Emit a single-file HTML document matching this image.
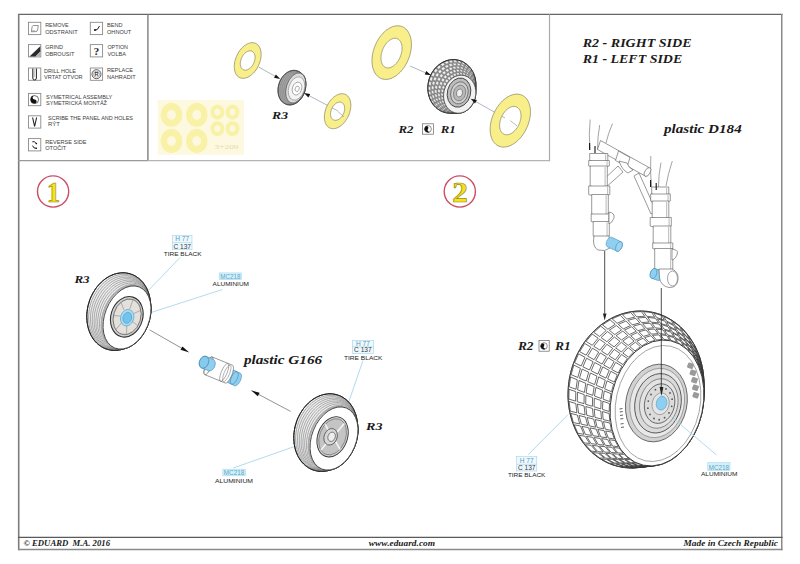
<!DOCTYPE html>
<html><head><meta charset="utf-8"><style>
html,body{margin:0;padding:0;background:#fff;width:800px;height:564px;overflow:hidden}
svg{display:block}
.sb{font-family:"Liberation Serif",serif;font-weight:bold;font-style:italic;fill:#1a1a1a}
.ss{font-family:"Liberation Sans",sans-serif;fill:#333}
</style></head><body>
<svg width="800" height="564" viewBox="0 0 800 564">
<g fill="none">
<line x1="18" y1="14.4" x2="782.5" y2="14.4" stroke="#666" stroke-width="1.2"/>
<line x1="18.7" y1="14" x2="18.7" y2="550.2" stroke="#7c7c7c" stroke-width="1.6"/>
<line x1="781.75" y1="14" x2="781.75" y2="550.2" stroke="#8a8a8a" stroke-width="1.5"/>
<line x1="18" y1="549.5" x2="782.5" y2="549.5" stroke="#8a8a8a" stroke-width="1.4"/>
<line x1="18" y1="537.45" x2="782.5" y2="537.45" stroke="#5a5a5a" stroke-width="1.2"/>
<line x1="147.9" y1="14.4" x2="147.9" y2="161" stroke="#888" stroke-width="1.5"/>
<line x1="18" y1="160.6" x2="148" y2="160.6" stroke="#999" stroke-width="1.4"/>
<line x1="148" y1="160.6" x2="550" y2="160.6" stroke="#b4b4b4" stroke-width="1.3"/>
<line x1="549.5" y1="14.4" x2="549.5" y2="161" stroke="#aaa" stroke-width="1.2"/>
</g>
<!-- legend -->
<g fill="none" stroke="#8a8a8a" stroke-width="0.9">
<rect x="28.5" y="22.3" width="12.3" height="12.3"/>
<rect x="90.3" y="22.3" width="12.3" height="12.3"/>
<rect x="28.5" y="44.6" width="12.3" height="12.3"/>
<rect x="90.3" y="44.6" width="12.3" height="12.3"/>
<rect x="28.5" y="68" width="12.3" height="12.3"/>
<rect x="90.3" y="68" width="12.3" height="12.3"/>
<rect x="28.5" y="93.4" width="12.3" height="12.3"/>
<rect x="28.5" y="115.8" width="12.3" height="12.3"/>
<rect x="28.5" y="138.6" width="12.3" height="12.3"/>
</g>
<g>
<!-- remove -->
<path d="M31.3,31.8 L32.2,26.5 Q32.5,25.5 33.6,25.5 L38.3,25.5 L37.6,30 Q37.3,31.6 35.8,31.6 Z" fill="none" stroke="#777" stroke-width="0.8"/>
<path d="M31.3,31.8 L36,31.6 L35.2,30.4 L32,30.6Z" fill="#999"/>
<!-- grind -->
<path d="M29.5,56.4 L40.3,46.2 L40.3,51.5 L35.5,56.4 Z" fill="#2a2a2a"/>
<path d="M35.5,56.4 L40.3,51.5 L40.3,56.4 Z" fill="#b0b0b0"/>
<!-- bend -->
<path d="M94.5,30.2 Q97.5,31 99.5,26" fill="none" stroke="#222" stroke-width="1"/>
<circle cx="95" cy="30" r="1.1" fill="#222"/>
<!-- option -->
<text x="96.4" y="55.2" font-family="Liberation Serif,serif" font-weight="bold" font-size="11" text-anchor="middle" fill="#222">?</text>
<!-- drill -->
<path d="M32.8,68.5 L32.8,78 Q32.8,80 34.6,80 Q36.4,80 36.4,78 L36.4,68.5" fill="none" stroke="#222" stroke-width="1"/>
<path d="M34.2,69 L34.2,77" stroke="#888" stroke-width="0.6"/>
<!-- replace -->
<circle cx="96.5" cy="74.2" r="4.5" fill="none" stroke="#333" stroke-width="0.8"/>
<circle cx="96.5" cy="74.2" r="3" fill="none" stroke="#666" stroke-width="0.5"/>
<text x="96.5" y="76.3" font-family="Liberation Sans,sans-serif" font-weight="bold" font-size="5.5" text-anchor="middle" fill="#333">R</text>
<!-- sym -->
<circle cx="34.6" cy="99.6" r="4" fill="#fff" stroke="#333" stroke-width="0.7"/>
<path d="M34.6,95.6 A4,4 0 0 0 34.6,103.6 A2,2 0 0 0 34.6,99.6 A2,2 0 0 1 34.6,95.6Z" fill="#111"/>
<!-- scribe -->
<path d="M32.6,117.5 L34.6,126.5 L36.6,117.5" fill="none" stroke="#222" stroke-width="1.1"/>
<!-- reverse -->
<path d="M32.3,141.8 Q34.6,140.6 36.3,143.6 M32.5,145.6 Q33.6,148.8 36.3,148.3" fill="none" stroke="#222" stroke-width="1"/>
<circle cx="36.3" cy="143.6" r="0.8" fill="#111"/><circle cx="36.3" cy="148.3" r="0.8" fill="#111"/>
</g>
<g class="ss" font-size="5.7" style="fill:#3c3c3c">
<text x="45.2" y="27.3" textLength="23.5" lengthAdjust="spacingAndGlyphs">REMOVE</text>
<text x="45.2" y="33.8" textLength="32.5" lengthAdjust="spacingAndGlyphs">ODSTRANIT</text>
<text x="107" y="27.3" textLength="15.4" lengthAdjust="spacingAndGlyphs">BEND</text>
<text x="107" y="33.8" textLength="24.3" lengthAdjust="spacingAndGlyphs">OHNOUT</text>
<text x="45.2" y="49.3" textLength="17.8" lengthAdjust="spacingAndGlyphs">GRIND</text>
<text x="45.2" y="55.6" textLength="29.2" lengthAdjust="spacingAndGlyphs">OBROUSIT</text>
<text x="107.4" y="49.3" textLength="20.6" lengthAdjust="spacingAndGlyphs">OPTION</text>
<text x="107.4" y="55.6" textLength="18.6" lengthAdjust="spacingAndGlyphs">VOLBA</text>
<text x="44" y="72.6" textLength="32" lengthAdjust="spacingAndGlyphs">DRILL HOLE</text>
<text x="44" y="78.6" textLength="38.6" lengthAdjust="spacingAndGlyphs">VRTAT OTVOR</text>
<text x="107" y="72.4" textLength="26" lengthAdjust="spacingAndGlyphs">REPLACE</text>
<text x="107" y="78.6" textLength="28.7" lengthAdjust="spacingAndGlyphs">NAHRADIT</text>
<text x="46" y="98.8" textLength="66.3" lengthAdjust="spacingAndGlyphs">SYMETRICAL ASSEMBLY</text>
<text x="46" y="104.5" textLength="61" lengthAdjust="spacingAndGlyphs">SYMETRICKÁ MONTÁŽ</text>
<text x="48" y="119.9" textLength="85" lengthAdjust="spacingAndGlyphs">SCRIBE THE PANEL AND HOLES</text>
<text x="48" y="126.4" textLength="11.8" lengthAdjust="spacingAndGlyphs">RÝT</text>
<text x="45.2" y="143.8" textLength="41.4" lengthAdjust="spacingAndGlyphs">REVERSE SIDE</text>
<text x="45.2" y="150.1" textLength="21.1" lengthAdjust="spacingAndGlyphs">OTOČIT</text>
</g>

<rect x="157.7" y="100" width="86.3" height="54.8" fill="#fcf9e0"/>
<path d="M182.2,114.9 L182.2,115.7 L182.1,116.6 L182,117.4 L181.8,118.2 L181.6,119 L181.3,119.8 L180.9,120.5 L180.6,121.3 L180.2,122 L179.7,122.6 L179.2,123.2 L178.7,123.8 L178.1,124.4 L177.5,124.8 L176.8,125.3 L176.2,125.7 L175.5,126 L174.8,126.3 L174.1,126.5 L173.4,126.7 L172.6,126.8 L171.9,126.9 L171.1,126.9 L170.4,126.8 L169.6,126.7 L168.9,126.5 L168.2,126.3 L167.5,126 L166.8,125.7 L166.2,125.3 L165.5,124.8 L164.9,124.4 L164.3,123.8 L163.8,123.2 L163.3,122.6 L162.8,122 L162.4,121.3 L162.1,120.5 L161.7,119.8 L161.4,119 L161.2,118.2 L161,117.4 L160.9,116.6 L160.8,115.7 L160.8,114.9 L160.8,114.1 L160.9,113.2 L161,112.4 L161.2,111.6 L161.4,110.8 L161.7,110 L162.1,109.3 L162.4,108.5 L162.8,107.8 L163.3,107.2 L163.8,106.6 L164.3,106 L164.9,105.4 L165.5,105 L166.2,104.5 L166.8,104.1 L167.5,103.8 L168.2,103.5 L168.9,103.3 L169.6,103.1 L170.4,103 L171.1,102.9 L171.9,102.9 L172.6,103 L173.4,103.1 L174.1,103.3 L174.8,103.5 L175.5,103.8 L176.2,104.1 L176.8,104.5 L177.5,105 L178.1,105.4 L178.7,106 L179.2,106.6 L179.7,107.2 L180.2,107.8 L180.6,108.5 L180.9,109.3 L181.3,110 L181.6,110.8 L181.8,111.6 L182,112.4 L182.1,113.2 L182.2,114.1Z M175.9,114.9 L175.9,115.2 L175.9,115.6 L175.8,115.9 L175.7,116.2 L175.6,116.6 L175.5,116.9 L175.4,117.2 L175.2,117.5 L175.1,117.7 L174.9,118 L174.7,118.3 L174.4,118.5 L174.2,118.7 L174,118.9 L173.7,119.1 L173.4,119.3 L173.1,119.4 L172.9,119.5 L172.6,119.6 L172.3,119.7 L172,119.7 L171.7,119.7 L171.3,119.7 L171,119.7 L170.7,119.7 L170.4,119.6 L170.1,119.5 L169.9,119.4 L169.6,119.3 L169.3,119.1 L169,118.9 L168.8,118.7 L168.6,118.5 L168.3,118.3 L168.1,118 L167.9,117.7 L167.8,117.5 L167.6,117.2 L167.5,116.9 L167.4,116.6 L167.3,116.2 L167.2,115.9 L167.1,115.6 L167.1,115.2 L167.1,114.9 L167.1,114.6 L167.1,114.2 L167.2,113.9 L167.3,113.6 L167.4,113.2 L167.5,112.9 L167.6,112.6 L167.8,112.3 L167.9,112.1 L168.1,111.8 L168.3,111.5 L168.6,111.3 L168.8,111.1 L169,110.9 L169.3,110.7 L169.6,110.5 L169.9,110.4 L170.1,110.3 L170.4,110.2 L170.7,110.1 L171,110.1 L171.3,110.1 L171.7,110.1 L172,110.1 L172.3,110.1 L172.6,110.2 L172.9,110.3 L173.1,110.4 L173.4,110.5 L173.7,110.7 L174,110.9 L174.2,111.1 L174.4,111.3 L174.7,111.5 L174.9,111.8 L175.1,112.1 L175.2,112.3 L175.4,112.6 L175.5,112.9 L175.6,113.2 L175.7,113.6 L175.8,113.9 L175.9,114.2 L175.9,114.6Z" fill="#f9f1a6" fill-rule="evenodd" stroke="none" stroke-width="0"/>
<path d="M207.4,114.9 L207.4,115.7 L207.3,116.6 L207.2,117.4 L207,118.2 L206.8,119 L206.5,119.8 L206.2,120.5 L205.8,121.3 L205.4,122 L204.9,122.6 L204.4,123.2 L203.9,123.8 L203.3,124.4 L202.7,124.8 L202.1,125.3 L201.4,125.7 L200.8,126 L200.1,126.3 L199.3,126.5 L198.6,126.7 L197.9,126.8 L197.1,126.9 L196.4,126.9 L195.6,126.8 L194.9,126.7 L194.2,126.5 L193.4,126.3 L192.7,126 L192.1,125.7 L191.4,125.3 L190.8,124.8 L190.2,124.4 L189.6,123.8 L189.1,123.2 L188.6,122.6 L188.1,122 L187.7,121.3 L187.3,120.5 L187,119.8 L186.7,119 L186.5,118.2 L186.3,117.4 L186.2,116.6 L186.1,115.7 L186.1,114.9 L186.1,114.1 L186.2,113.2 L186.3,112.4 L186.5,111.6 L186.7,110.8 L187,110 L187.3,109.3 L187.7,108.5 L188.1,107.8 L188.6,107.2 L189.1,106.6 L189.6,106 L190.2,105.4 L190.8,105 L191.4,104.5 L192.1,104.1 L192.7,103.8 L193.4,103.5 L194.2,103.3 L194.9,103.1 L195.6,103 L196.4,102.9 L197.1,102.9 L197.9,103 L198.6,103.1 L199.3,103.3 L200.1,103.5 L200.8,103.8 L201.4,104.1 L202.1,104.5 L202.7,105 L203.3,105.4 L203.9,106 L204.4,106.6 L204.9,107.2 L205.4,107.8 L205.8,108.5 L206.2,109.3 L206.5,110 L206.8,110.8 L207,111.6 L207.2,112.4 L207.3,113.2 L207.4,114.1Z M201.2,114.9 L201.1,115.2 L201.1,115.6 L201.1,115.9 L201,116.2 L200.9,116.6 L200.8,116.9 L200.6,117.2 L200.5,117.5 L200.3,117.7 L200.1,118 L199.9,118.3 L199.7,118.5 L199.5,118.7 L199.2,118.9 L198.9,119.1 L198.7,119.3 L198.4,119.4 L198.1,119.5 L197.8,119.6 L197.5,119.7 L197.2,119.7 L196.9,119.7 L196.6,119.7 L196.3,119.7 L196,119.7 L195.7,119.6 L195.4,119.5 L195.1,119.4 L194.8,119.3 L194.6,119.1 L194.3,118.9 L194,118.7 L193.8,118.5 L193.6,118.3 L193.4,118 L193.2,117.7 L193,117.5 L192.9,117.2 L192.7,116.9 L192.6,116.6 L192.5,116.2 L192.4,115.9 L192.4,115.6 L192.4,115.2 L192.3,114.9 L192.4,114.6 L192.4,114.2 L192.4,113.9 L192.5,113.6 L192.6,113.2 L192.7,112.9 L192.9,112.6 L193,112.3 L193.2,112.1 L193.4,111.8 L193.6,111.5 L193.8,111.3 L194,111.1 L194.3,110.9 L194.6,110.7 L194.8,110.5 L195.1,110.4 L195.4,110.3 L195.7,110.2 L196,110.1 L196.3,110.1 L196.6,110.1 L196.9,110.1 L197.2,110.1 L197.5,110.1 L197.8,110.2 L198.1,110.3 L198.4,110.4 L198.7,110.5 L198.9,110.7 L199.2,110.9 L199.5,111.1 L199.7,111.3 L199.9,111.5 L200.1,111.8 L200.3,112.1 L200.5,112.3 L200.6,112.6 L200.8,112.9 L200.9,113.2 L201,113.6 L201.1,113.9 L201.1,114.2 L201.1,114.6Z" fill="#f9f1a6" fill-rule="evenodd" stroke="none" stroke-width="0"/>
<path d="M182.2,141 L182.2,141.8 L182.1,142.7 L182,143.5 L181.8,144.3 L181.6,145.1 L181.3,145.9 L180.9,146.6 L180.6,147.4 L180.2,148.1 L179.7,148.7 L179.2,149.3 L178.7,149.9 L178.1,150.5 L177.5,150.9 L176.8,151.4 L176.2,151.8 L175.5,152.1 L174.8,152.4 L174.1,152.6 L173.4,152.8 L172.6,152.9 L171.9,153 L171.1,153 L170.4,152.9 L169.6,152.8 L168.9,152.6 L168.2,152.4 L167.5,152.1 L166.8,151.8 L166.2,151.4 L165.5,150.9 L164.9,150.5 L164.3,149.9 L163.8,149.3 L163.3,148.7 L162.8,148.1 L162.4,147.4 L162.1,146.6 L161.7,145.9 L161.4,145.1 L161.2,144.3 L161,143.5 L160.9,142.7 L160.8,141.8 L160.8,141 L160.8,140.2 L160.9,139.3 L161,138.5 L161.2,137.7 L161.4,136.9 L161.7,136.1 L162.1,135.4 L162.4,134.6 L162.8,133.9 L163.3,133.3 L163.8,132.7 L164.3,132.1 L164.9,131.5 L165.5,131.1 L166.2,130.6 L166.8,130.2 L167.5,129.9 L168.2,129.6 L168.9,129.4 L169.6,129.2 L170.4,129.1 L171.1,129 L171.9,129 L172.6,129.1 L173.4,129.2 L174.1,129.4 L174.8,129.6 L175.5,129.9 L176.2,130.2 L176.8,130.6 L177.5,131.1 L178.1,131.5 L178.7,132.1 L179.2,132.7 L179.7,133.3 L180.2,133.9 L180.6,134.6 L180.9,135.4 L181.3,136.1 L181.6,136.9 L181.8,137.7 L182,138.5 L182.1,139.3 L182.2,140.2Z M175.9,141 L175.9,141.3 L175.9,141.7 L175.8,142 L175.7,142.3 L175.6,142.7 L175.5,143 L175.4,143.3 L175.2,143.6 L175.1,143.8 L174.9,144.1 L174.7,144.4 L174.4,144.6 L174.2,144.8 L174,145 L173.7,145.2 L173.4,145.4 L173.1,145.5 L172.9,145.6 L172.6,145.7 L172.3,145.8 L172,145.8 L171.7,145.8 L171.3,145.8 L171,145.8 L170.7,145.8 L170.4,145.7 L170.1,145.6 L169.9,145.5 L169.6,145.4 L169.3,145.2 L169,145 L168.8,144.8 L168.6,144.6 L168.3,144.4 L168.1,144.1 L167.9,143.8 L167.8,143.6 L167.6,143.3 L167.5,143 L167.4,142.7 L167.3,142.3 L167.2,142 L167.1,141.7 L167.1,141.3 L167.1,141 L167.1,140.7 L167.1,140.3 L167.2,140 L167.3,139.7 L167.4,139.3 L167.5,139 L167.6,138.7 L167.8,138.4 L167.9,138.2 L168.1,137.9 L168.3,137.6 L168.6,137.4 L168.8,137.2 L169,137 L169.3,136.8 L169.6,136.6 L169.9,136.5 L170.1,136.4 L170.4,136.3 L170.7,136.2 L171,136.2 L171.3,136.2 L171.7,136.2 L172,136.2 L172.3,136.2 L172.6,136.3 L172.9,136.4 L173.1,136.5 L173.4,136.6 L173.7,136.8 L174,137 L174.2,137.2 L174.4,137.4 L174.7,137.6 L174.9,137.9 L175.1,138.2 L175.2,138.4 L175.4,138.7 L175.5,139 L175.6,139.3 L175.7,139.7 L175.8,140 L175.9,140.3 L175.9,140.7Z" fill="#f9f1a6" fill-rule="evenodd" stroke="none" stroke-width="0"/>
<path d="M207.4,141 L207.4,141.8 L207.3,142.7 L207.2,143.5 L207,144.3 L206.8,145.1 L206.5,145.9 L206.2,146.6 L205.8,147.4 L205.4,148.1 L204.9,148.7 L204.4,149.3 L203.9,149.9 L203.3,150.5 L202.7,150.9 L202.1,151.4 L201.4,151.8 L200.8,152.1 L200.1,152.4 L199.3,152.6 L198.6,152.8 L197.9,152.9 L197.1,153 L196.4,153 L195.6,152.9 L194.9,152.8 L194.2,152.6 L193.4,152.4 L192.7,152.1 L192.1,151.8 L191.4,151.4 L190.8,150.9 L190.2,150.5 L189.6,149.9 L189.1,149.3 L188.6,148.7 L188.1,148.1 L187.7,147.4 L187.3,146.6 L187,145.9 L186.7,145.1 L186.5,144.3 L186.3,143.5 L186.2,142.7 L186.1,141.8 L186.1,141 L186.1,140.2 L186.2,139.3 L186.3,138.5 L186.5,137.7 L186.7,136.9 L187,136.1 L187.3,135.4 L187.7,134.6 L188.1,133.9 L188.6,133.3 L189.1,132.7 L189.6,132.1 L190.2,131.5 L190.8,131.1 L191.4,130.6 L192.1,130.2 L192.7,129.9 L193.4,129.6 L194.2,129.4 L194.9,129.2 L195.6,129.1 L196.4,129 L197.1,129 L197.9,129.1 L198.6,129.2 L199.3,129.4 L200.1,129.6 L200.8,129.9 L201.4,130.2 L202.1,130.6 L202.7,131.1 L203.3,131.5 L203.9,132.1 L204.4,132.7 L204.9,133.3 L205.4,133.9 L205.8,134.6 L206.2,135.4 L206.5,136.1 L206.8,136.9 L207,137.7 L207.2,138.5 L207.3,139.3 L207.4,140.2Z M201.2,141 L201.1,141.3 L201.1,141.7 L201.1,142 L201,142.3 L200.9,142.7 L200.8,143 L200.6,143.3 L200.5,143.6 L200.3,143.8 L200.1,144.1 L199.9,144.4 L199.7,144.6 L199.5,144.8 L199.2,145 L198.9,145.2 L198.7,145.4 L198.4,145.5 L198.1,145.6 L197.8,145.7 L197.5,145.8 L197.2,145.8 L196.9,145.8 L196.6,145.8 L196.3,145.8 L196,145.8 L195.7,145.7 L195.4,145.6 L195.1,145.5 L194.8,145.4 L194.6,145.2 L194.3,145 L194,144.8 L193.8,144.6 L193.6,144.4 L193.4,144.1 L193.2,143.8 L193,143.6 L192.9,143.3 L192.7,143 L192.6,142.7 L192.5,142.3 L192.4,142 L192.4,141.7 L192.4,141.3 L192.3,141 L192.4,140.7 L192.4,140.3 L192.4,140 L192.5,139.7 L192.6,139.3 L192.7,139 L192.9,138.7 L193,138.4 L193.2,138.2 L193.4,137.9 L193.6,137.6 L193.8,137.4 L194,137.2 L194.3,137 L194.6,136.8 L194.8,136.6 L195.1,136.5 L195.4,136.4 L195.7,136.3 L196,136.2 L196.3,136.2 L196.6,136.2 L196.9,136.2 L197.2,136.2 L197.5,136.2 L197.8,136.3 L198.1,136.4 L198.4,136.5 L198.7,136.6 L198.9,136.8 L199.2,137 L199.5,137.2 L199.7,137.4 L199.9,137.6 L200.1,137.9 L200.3,138.2 L200.5,138.4 L200.6,138.7 L200.8,139 L200.9,139.3 L201,139.7 L201.1,140 L201.1,140.3 L201.1,140.7Z" fill="#f9f1a6" fill-rule="evenodd" stroke="none" stroke-width="0"/>
<path d="M224.3,112.1 L224.3,112.6 L224.2,113.1 L224.1,113.6 L224,114.1 L223.9,114.6 L223.7,115.1 L223.5,115.6 L223.3,116 L223,116.4 L222.7,116.9 L222.4,117.2 L222,117.6 L221.6,117.9 L221.3,118.2 L220.8,118.5 L220.4,118.8 L220,119 L219.5,119.1 L219.1,119.3 L218.6,119.4 L218.1,119.5 L217.6,119.5 L217.2,119.5 L216.7,119.5 L216.2,119.4 L215.7,119.3 L215.3,119.1 L214.8,119 L214.4,118.8 L214,118.5 L213.5,118.2 L213.2,117.9 L212.8,117.6 L212.4,117.2 L212.1,116.9 L211.8,116.4 L211.5,116 L211.3,115.6 L211.1,115.1 L210.9,114.6 L210.8,114.1 L210.7,113.6 L210.6,113.1 L210.5,112.6 L210.5,112.1 L210.5,111.6 L210.6,111.1 L210.7,110.6 L210.8,110.1 L210.9,109.6 L211.1,109.1 L211.3,108.6 L211.5,108.2 L211.8,107.8 L212.1,107.3 L212.4,107 L212.8,106.6 L213.2,106.3 L213.5,106 L213.9,105.7 L214.4,105.4 L214.8,105.2 L215.3,105.1 L215.7,104.9 L216.2,104.8 L216.7,104.7 L217.2,104.7 L217.6,104.7 L218.1,104.7 L218.6,104.8 L219.1,104.9 L219.5,105.1 L220,105.2 L220.4,105.4 L220.8,105.7 L221.3,106 L221.6,106.3 L222,106.6 L222.4,107 L222.7,107.3 L223,107.8 L223.3,108.2 L223.5,108.6 L223.7,109.1 L223.9,109.6 L224,110.1 L224.1,110.6 L224.2,111.1 L224.3,111.6Z M220.4,112.1 L220.4,112.3 L220.4,112.6 L220.3,112.8 L220.3,113 L220.2,113.2 L220.1,113.4 L220,113.6 L219.9,113.8 L219.8,114 L219.7,114.2 L219.6,114.4 L219.4,114.6 L219.2,114.7 L219.1,114.8 L218.9,115 L218.7,115.1 L218.5,115.2 L218.3,115.2 L218.1,115.3 L217.9,115.3 L217.7,115.4 L217.5,115.4 L217.3,115.4 L217.1,115.4 L216.9,115.3 L216.7,115.3 L216.5,115.2 L216.3,115.2 L216.1,115.1 L215.9,115 L215.7,114.8 L215.6,114.7 L215.4,114.6 L215.2,114.4 L215.1,114.2 L215,114 L214.9,113.8 L214.8,113.6 L214.7,113.4 L214.6,113.2 L214.5,113 L214.5,112.8 L214.4,112.6 L214.4,112.3 L214.4,112.1 L214.4,111.9 L214.4,111.6 L214.5,111.4 L214.5,111.2 L214.6,111 L214.7,110.8 L214.8,110.6 L214.9,110.4 L215,110.2 L215.1,110 L215.2,109.8 L215.4,109.6 L215.6,109.5 L215.7,109.4 L215.9,109.2 L216.1,109.1 L216.3,109 L216.5,109 L216.7,108.9 L216.9,108.9 L217.1,108.8 L217.3,108.8 L217.5,108.8 L217.7,108.8 L217.9,108.9 L218.1,108.9 L218.3,109 L218.5,109 L218.7,109.1 L218.9,109.2 L219.1,109.4 L219.2,109.5 L219.4,109.6 L219.6,109.8 L219.7,110 L219.8,110.2 L219.9,110.4 L220,110.6 L220.1,110.8 L220.2,111 L220.3,111.2 L220.3,111.4 L220.4,111.6 L220.4,111.9Z" fill="#f9f1a6" fill-rule="evenodd" stroke="none" stroke-width="0"/>
<path d="M239.4,112.1 L239.4,112.6 L239.3,113.1 L239.2,113.6 L239.1,114.1 L239,114.6 L238.8,115.1 L238.6,115.6 L238.4,116 L238.1,116.4 L237.8,116.9 L237.5,117.2 L237.1,117.6 L236.7,117.9 L236.4,118.2 L235.9,118.5 L235.5,118.8 L235.1,119 L234.6,119.1 L234.2,119.3 L233.7,119.4 L233.2,119.5 L232.7,119.5 L232.3,119.5 L231.8,119.5 L231.3,119.4 L230.8,119.3 L230.4,119.1 L229.9,119 L229.5,118.8 L229.1,118.5 L228.6,118.2 L228.3,117.9 L227.9,117.6 L227.5,117.2 L227.2,116.9 L226.9,116.4 L226.6,116 L226.4,115.6 L226.2,115.1 L226,114.6 L225.9,114.1 L225.8,113.6 L225.7,113.1 L225.6,112.6 L225.6,112.1 L225.6,111.6 L225.7,111.1 L225.8,110.6 L225.9,110.1 L226,109.6 L226.2,109.1 L226.4,108.6 L226.6,108.2 L226.9,107.8 L227.2,107.3 L227.5,107 L227.9,106.6 L228.3,106.3 L228.6,106 L229,105.7 L229.5,105.4 L229.9,105.2 L230.4,105.1 L230.8,104.9 L231.3,104.8 L231.8,104.7 L232.3,104.7 L232.7,104.7 L233.2,104.7 L233.7,104.8 L234.2,104.9 L234.6,105.1 L235.1,105.2 L235.5,105.4 L235.9,105.7 L236.4,106 L236.7,106.3 L237.1,106.6 L237.5,107 L237.8,107.3 L238.1,107.8 L238.4,108.2 L238.6,108.6 L238.8,109.1 L239,109.6 L239.1,110.1 L239.2,110.6 L239.3,111.1 L239.4,111.6Z M235.5,112.1 L235.5,112.3 L235.5,112.6 L235.4,112.8 L235.4,113 L235.3,113.2 L235.2,113.4 L235.1,113.6 L235,113.8 L234.9,114 L234.8,114.2 L234.7,114.4 L234.5,114.6 L234.3,114.7 L234.2,114.8 L234,115 L233.8,115.1 L233.6,115.2 L233.4,115.2 L233.2,115.3 L233,115.3 L232.8,115.4 L232.6,115.4 L232.4,115.4 L232.2,115.4 L232,115.3 L231.8,115.3 L231.6,115.2 L231.4,115.2 L231.2,115.1 L231,115 L230.8,114.8 L230.7,114.7 L230.5,114.6 L230.3,114.4 L230.2,114.2 L230.1,114 L230,113.8 L229.9,113.6 L229.8,113.4 L229.7,113.2 L229.6,113 L229.6,112.8 L229.5,112.6 L229.5,112.3 L229.5,112.1 L229.5,111.9 L229.5,111.6 L229.6,111.4 L229.6,111.2 L229.7,111 L229.8,110.8 L229.9,110.6 L230,110.4 L230.1,110.2 L230.2,110 L230.3,109.8 L230.5,109.6 L230.7,109.5 L230.8,109.4 L231,109.2 L231.2,109.1 L231.4,109 L231.6,109 L231.8,108.9 L232,108.9 L232.2,108.8 L232.4,108.8 L232.6,108.8 L232.8,108.8 L233,108.9 L233.2,108.9 L233.4,109 L233.6,109 L233.8,109.1 L234,109.2 L234.2,109.4 L234.3,109.5 L234.5,109.6 L234.7,109.8 L234.8,110 L234.9,110.2 L235,110.4 L235.1,110.6 L235.2,110.8 L235.3,111 L235.4,111.2 L235.4,111.4 L235.5,111.6 L235.5,111.9Z" fill="#f9f1a6" fill-rule="evenodd" stroke="none" stroke-width="0"/>
<path d="M224.3,128.6 L224.3,129.1 L224.2,129.6 L224.1,130.1 L224,130.6 L223.9,131.1 L223.7,131.6 L223.5,132.1 L223.3,132.5 L223,132.9 L222.7,133.4 L222.4,133.7 L222,134.1 L221.6,134.4 L221.3,134.7 L220.8,135 L220.4,135.3 L220,135.5 L219.5,135.6 L219.1,135.8 L218.6,135.9 L218.1,136 L217.6,136 L217.2,136 L216.7,136 L216.2,135.9 L215.7,135.8 L215.3,135.6 L214.8,135.5 L214.4,135.3 L214,135 L213.5,134.7 L213.2,134.4 L212.8,134.1 L212.4,133.7 L212.1,133.4 L211.8,132.9 L211.5,132.5 L211.3,132.1 L211.1,131.6 L210.9,131.1 L210.8,130.6 L210.7,130.1 L210.6,129.6 L210.5,129.1 L210.5,128.6 L210.5,128.1 L210.6,127.6 L210.7,127.1 L210.8,126.6 L210.9,126.1 L211.1,125.6 L211.3,125.1 L211.5,124.7 L211.8,124.3 L212.1,123.8 L212.4,123.5 L212.8,123.1 L213.2,122.8 L213.5,122.5 L213.9,122.2 L214.4,121.9 L214.8,121.7 L215.3,121.6 L215.7,121.4 L216.2,121.3 L216.7,121.2 L217.2,121.2 L217.6,121.2 L218.1,121.2 L218.6,121.3 L219.1,121.4 L219.5,121.6 L220,121.7 L220.4,121.9 L220.8,122.2 L221.3,122.5 L221.6,122.8 L222,123.1 L222.4,123.5 L222.7,123.8 L223,124.3 L223.3,124.7 L223.5,125.1 L223.7,125.6 L223.9,126.1 L224,126.6 L224.1,127.1 L224.2,127.6 L224.3,128.1Z M220.4,128.6 L220.4,128.8 L220.4,129.1 L220.3,129.3 L220.3,129.5 L220.2,129.7 L220.1,129.9 L220,130.1 L219.9,130.3 L219.8,130.5 L219.7,130.7 L219.6,130.9 L219.4,131.1 L219.2,131.2 L219.1,131.3 L218.9,131.5 L218.7,131.6 L218.5,131.7 L218.3,131.7 L218.1,131.8 L217.9,131.8 L217.7,131.9 L217.5,131.9 L217.3,131.9 L217.1,131.9 L216.9,131.8 L216.7,131.8 L216.5,131.7 L216.3,131.7 L216.1,131.6 L215.9,131.5 L215.7,131.3 L215.6,131.2 L215.4,131.1 L215.2,130.9 L215.1,130.7 L215,130.5 L214.9,130.3 L214.8,130.1 L214.7,129.9 L214.6,129.7 L214.5,129.5 L214.5,129.3 L214.4,129.1 L214.4,128.8 L214.4,128.6 L214.4,128.4 L214.4,128.1 L214.5,127.9 L214.5,127.7 L214.6,127.5 L214.7,127.3 L214.8,127.1 L214.9,126.9 L215,126.7 L215.1,126.5 L215.2,126.3 L215.4,126.1 L215.6,126 L215.7,125.9 L215.9,125.7 L216.1,125.6 L216.3,125.5 L216.5,125.5 L216.7,125.4 L216.9,125.4 L217.1,125.3 L217.3,125.3 L217.5,125.3 L217.7,125.3 L217.9,125.4 L218.1,125.4 L218.3,125.5 L218.5,125.5 L218.7,125.6 L218.9,125.7 L219.1,125.9 L219.2,126 L219.4,126.1 L219.6,126.3 L219.7,126.5 L219.8,126.7 L219.9,126.9 L220,127.1 L220.1,127.3 L220.2,127.5 L220.3,127.7 L220.3,127.9 L220.4,128.1 L220.4,128.4Z" fill="#f9f1a6" fill-rule="evenodd" stroke="none" stroke-width="0"/>
<path d="M239.4,128.6 L239.4,129.1 L239.3,129.6 L239.2,130.1 L239.1,130.6 L239,131.1 L238.8,131.6 L238.6,132.1 L238.4,132.5 L238.1,132.9 L237.8,133.4 L237.5,133.7 L237.1,134.1 L236.7,134.4 L236.4,134.7 L235.9,135 L235.5,135.3 L235.1,135.5 L234.6,135.6 L234.2,135.8 L233.7,135.9 L233.2,136 L232.7,136 L232.3,136 L231.8,136 L231.3,135.9 L230.8,135.8 L230.4,135.6 L229.9,135.5 L229.5,135.3 L229.1,135 L228.6,134.7 L228.3,134.4 L227.9,134.1 L227.5,133.7 L227.2,133.4 L226.9,132.9 L226.6,132.5 L226.4,132.1 L226.2,131.6 L226,131.1 L225.9,130.6 L225.8,130.1 L225.7,129.6 L225.6,129.1 L225.6,128.6 L225.6,128.1 L225.7,127.6 L225.8,127.1 L225.9,126.6 L226,126.1 L226.2,125.6 L226.4,125.1 L226.6,124.7 L226.9,124.3 L227.2,123.8 L227.5,123.5 L227.9,123.1 L228.3,122.8 L228.6,122.5 L229,122.2 L229.5,121.9 L229.9,121.7 L230.4,121.6 L230.8,121.4 L231.3,121.3 L231.8,121.2 L232.3,121.2 L232.7,121.2 L233.2,121.2 L233.7,121.3 L234.2,121.4 L234.6,121.6 L235.1,121.7 L235.5,121.9 L235.9,122.2 L236.4,122.5 L236.7,122.8 L237.1,123.1 L237.5,123.5 L237.8,123.8 L238.1,124.3 L238.4,124.7 L238.6,125.1 L238.8,125.6 L239,126.1 L239.1,126.6 L239.2,127.1 L239.3,127.6 L239.4,128.1Z M235.5,128.6 L235.5,128.8 L235.5,129.1 L235.4,129.3 L235.4,129.5 L235.3,129.7 L235.2,129.9 L235.1,130.1 L235,130.3 L234.9,130.5 L234.8,130.7 L234.7,130.9 L234.5,131.1 L234.3,131.2 L234.2,131.3 L234,131.5 L233.8,131.6 L233.6,131.7 L233.4,131.7 L233.2,131.8 L233,131.8 L232.8,131.9 L232.6,131.9 L232.4,131.9 L232.2,131.9 L232,131.8 L231.8,131.8 L231.6,131.7 L231.4,131.7 L231.2,131.6 L231,131.5 L230.8,131.3 L230.7,131.2 L230.5,131.1 L230.3,130.9 L230.2,130.7 L230.1,130.5 L230,130.3 L229.9,130.1 L229.8,129.9 L229.7,129.7 L229.6,129.5 L229.6,129.3 L229.5,129.1 L229.5,128.8 L229.5,128.6 L229.5,128.4 L229.5,128.1 L229.6,127.9 L229.6,127.7 L229.7,127.5 L229.8,127.3 L229.9,127.1 L230,126.9 L230.1,126.7 L230.2,126.5 L230.3,126.3 L230.5,126.1 L230.7,126 L230.8,125.9 L231,125.7 L231.2,125.6 L231.4,125.5 L231.6,125.5 L231.8,125.4 L232,125.4 L232.2,125.3 L232.4,125.3 L232.6,125.3 L232.8,125.3 L233,125.4 L233.2,125.4 L233.4,125.5 L233.6,125.5 L233.8,125.6 L234,125.7 L234.2,125.9 L234.3,126 L234.5,126.1 L234.7,126.3 L234.8,126.5 L234.9,126.7 L235,126.9 L235.1,127.1 L235.2,127.3 L235.3,127.5 L235.4,127.7 L235.4,127.9 L235.5,128.1 L235.5,128.4Z" fill="#f9f1a6" fill-rule="evenodd" stroke="none" stroke-width="0"/>
<text x="214.5" y="148.5" font-family="Liberation Serif,serif" font-size="6.5" fill="#e4dcaa" textLength="24" lengthAdjust="spacingAndGlyphs">3+209</text>
<line x1="258.6" y1="67" x2="275" y2="76.2" stroke="#8a98a8" stroke-width="0.7"/><path d="M280.2,79.1 L274,77.8 L275.9,74.5 Z" fill="#111"/>
<path d="M258.5,65.5 L257.9,66.7 L257.3,67.9 L256.6,69 L255.9,70.1 L255.1,71.1 L254.3,72.1 L253.5,73 L252.6,73.8 L251.7,74.6 L250.8,75.4 L249.9,76 L249,76.6 L248,77.1 L247.1,77.5 L246.2,77.8 L245.2,78.1 L244.3,78.3 L243.4,78.3 L242.6,78.3 L241.7,78.2 L240.9,78.1 L240.1,77.8 L239.3,77.4 L238.6,77 L238,76.5 L237.3,75.9 L236.8,75.2 L236.3,74.5 L235.8,73.7 L235.4,72.8 L235,71.9 L234.8,70.9 L234.5,69.9 L234.4,68.8 L234.3,67.7 L234.3,66.5 L234.3,65.3 L234.4,64.1 L234.6,62.9 L234.8,61.6 L235.1,60.4 L235.5,59.1 L235.9,57.9 L236.4,56.7 L236.9,55.5 L237.5,54.3 L238.1,53.1 L238.8,52 L239.5,50.9 L240.3,49.9 L241.1,48.9 L241.9,48 L242.8,47.2 L243.7,46.4 L244.6,45.6 L245.5,45 L246.4,44.4 L247.4,43.9 L248.3,43.5 L249.2,43.2 L250.2,42.9 L251.1,42.7 L252,42.7 L252.8,42.7 L253.7,42.8 L254.5,42.9 L255.3,43.2 L256.1,43.6 L256.8,44 L257.4,44.5 L258.1,45.1 L258.6,45.8 L259.1,46.5 L259.6,47.3 L260,48.2 L260.4,49.1 L260.6,50.1 L260.9,51.1 L261,52.2 L261.1,53.3 L261.1,54.5 L261.1,55.7 L261,56.9 L260.8,58.1 L260.6,59.4 L260.3,60.6 L259.9,61.9 L259.5,63.1 L259,64.3Z M253.7,63.3 L253.4,63.9 L253,64.5 L252.7,65.2 L252.3,65.7 L251.8,66.3 L251.4,66.8 L251,67.3 L250.5,67.8 L250,68.2 L249.5,68.6 L249,68.9 L248.5,69.2 L248,69.5 L247.5,69.7 L247,69.9 L246.4,70 L245.9,70.1 L245.4,70.2 L245,70.1 L244.5,70.1 L244,70 L243.6,69.8 L243.2,69.6 L242.8,69.4 L242.4,69.1 L242.1,68.8 L241.8,68.4 L241.5,68 L241.2,67.6 L241,67.1 L240.8,66.6 L240.6,66.1 L240.5,65.5 L240.4,64.9 L240.3,64.3 L240.3,63.7 L240.3,63 L240.4,62.4 L240.5,61.7 L240.6,61 L240.8,60.4 L241,59.7 L241.2,59 L241.4,58.4 L241.7,57.7 L242,57.1 L242.4,56.5 L242.7,55.8 L243.1,55.3 L243.6,54.7 L244,54.2 L244.4,53.7 L244.9,53.2 L245.4,52.8 L245.9,52.4 L246.4,52.1 L246.9,51.8 L247.4,51.5 L247.9,51.3 L248.4,51.1 L249,51 L249.5,50.9 L250,50.8 L250.4,50.9 L250.9,50.9 L251.4,51 L251.8,51.2 L252.2,51.4 L252.6,51.6 L253,51.9 L253.3,52.2 L253.6,52.6 L253.9,53 L254.2,53.4 L254.4,53.9 L254.6,54.4 L254.8,54.9 L254.9,55.5 L255,56.1 L255.1,56.7 L255.1,57.3 L255.1,58 L255,58.6 L254.9,59.3 L254.8,60 L254.6,60.6 L254.4,61.3 L254.2,62 L254,62.6Z" fill="#f8ee8a" fill-rule="evenodd" stroke="#857f5a" stroke-width="0.7"/>
<path d="M278,90.2 L278,89.5 L278.1,88.9 L278.1,88.2 L278.2,87.5 L278.3,86.8 L278.4,86.2 L278.6,85.5 L278.7,84.8 L278.9,84.2 L279.1,83.5 L279.3,82.8 L279.6,82.2 L279.8,81.6 L280.1,80.9 L280.4,80.3 L280.7,79.7 L281.1,79.1 L281.4,78.5 L281.8,78 L282.2,77.4 L282.6,76.9 L283,76.3 L283.4,75.8 L283.8,75.4 L284.3,74.9 L284.7,74.4 L285.2,74 L285.7,73.6 L286.2,73.2 L286.7,72.9 L287.2,72.5 L287.7,72.2 L288.3,71.9 L288.8,71.7 L289.3,71.4 L289.9,71.2 L290.4,71 L290.9,70.8 L291.5,70.7 L292,70.6 L292.6,70.5 L293.1,70.4 L293.7,70.4 L294.2,70.4 L294.7,70.4 L295.3,70.5 L295.8,70.5 L296.3,70.6 L296.8,70.8 L297.3,70.9 L297.8,71.1 L298.3,71.3 L298.8,71.5 L299.3,71.8 L299.7,72 L300.2,72.3 L300.6,72.7 L301,73 L302.5,74.3 L302.8,74.5 L303,74.8 L303.3,75.1 L303.6,75.4 L303.8,75.7 L304,76.1 L304.2,76.5 L304.5,76.9 L304.6,77.3 L304.8,77.7 L305,78.2 L305.1,78.6 L305.3,79.1 L305.4,79.6 L305.5,80.1 L305.6,80.6 L305.7,81.1 L305.7,81.6 L305.8,82.2 L305.8,82.7 L305.8,83.3 L305.8,85.1 L305.8,85.8 L305.7,86.4 L305.7,87.1 L305.6,87.8 L305.5,88.5 L305.4,89.1 L305.2,89.8 L305.1,90.5 L304.9,91.1 L304.7,91.8 L304.5,92.5 L304.2,93.1 L304,93.7 L303.7,94.4 L303.4,95 L303.1,95.6 L302.7,96.2 L302.4,96.8 L302,97.3 L301.6,97.9 L301.2,98.4 L300.8,99 L300.4,99.5 L300,99.9 L299.5,100.4 L299.1,100.9 L298.6,101.3 L298.1,101.7 L297.6,102.1 L297.1,102.4 L296.6,102.8 L296.1,103.1 L295.5,103.4 L295,103.6 L294.5,103.9 L293.9,104.1 L293.4,104.3 L292.9,104.5 L292.3,104.6 L291.8,104.7 L291.2,104.8 L290.7,104.9 L290.1,104.9 L289.6,104.9 L289.1,104.9 L288.5,104.8 L288,104.8 L287.5,104.7 L287,104.5 L286.5,104.4 L286,104.2 L285.5,104 L285,103.8 L284.5,103.5 L284.1,103.3 L283.6,103 L283.2,102.6 L282.8,102.3 L282.4,101.9 L282,101.5 L281.6,101.1 L281.2,100.7 L280.9,100.2 L280.6,99.8 L280.3,99.3 L280,98.8 L279.7,98.2 L279.5,97.7 L279.2,97.1 L279,96.5 L278.8,96 L278.6,95.4 L278.5,94.8 L278.4,94.1 L278.2,93.5 L278.2,92.9 L278.1,92.2 L278,91.5 L278,90.9Z" fill="#a2a2a2" stroke="#333" stroke-width="0.7"/><path d="M304.6,91.2 L304.3,91.9 L304,92.7 L303.7,93.5 L303.3,94.3 L303,95 L302.6,95.7 L302.2,96.4 L301.7,97.1 L301.3,97.8 L300.8,98.4 L300.3,99 L299.8,99.6 L299.3,100.1 L298.7,100.6 L298.2,101.1 L297.6,101.5 L297.1,101.9 L296.5,102.2 L295.9,102.6 L295.4,102.8 L294.8,103.1 L294.2,103.3 L293.6,103.4 L293.1,103.5 L292.5,103.6 L291.9,103.6 L291.4,103.6 L290.8,103.5 L290.3,103.4 L289.8,103.3 L289.3,103.1 L288.8,102.9 L288.3,102.6 L287.8,102.3 L287.4,101.9 L287,101.6 L286.6,101.1 L286.2,100.7 L285.8,100.2 L285.5,99.6 L285.2,99.1 L284.9,98.5 L284.7,97.9 L284.5,97.2 L284.3,96.5 L284.1,95.8 L284,95.1 L283.9,94.4 L283.8,93.6 L283.7,92.8 L283.7,92.1 L283.7,91.3 L283.8,90.5 L283.8,89.6 L283.9,88.8 L284.1,88 L284.2,87.2 L284.4,86.4 L284.7,85.6 L284.9,84.7 L285.2,84 L285.5,83.2 L285.8,82.4 L286.2,81.6 L286.5,80.9 L286.9,80.2 L287.3,79.5 L287.8,78.8 L288.2,78.1 L288.7,77.5 L289.2,76.9 L289.7,76.3 L290.2,75.8 L290.8,75.3 L291.3,74.8 L291.9,74.4 L292.4,74 L293,73.7 L293.6,73.3 L294.1,73.1 L294.7,72.8 L295.3,72.6 L295.9,72.5 L296.4,72.4 L297,72.3 L297.6,72.3 L298.1,72.3 L298.7,72.4 L299.2,72.5 L299.7,72.6 L300.2,72.8 L300.7,73 L301.2,73.3 L301.7,73.6 L302.1,74 L302.5,74.3 L302.9,74.8 L303.3,75.2 L303.7,75.7 L304,76.3 L304.3,76.8 L304.6,77.4 L304.8,78 L305,78.7 L305.2,79.4 L305.4,80.1 L305.5,80.8 L305.6,81.5 L305.7,82.3 L305.8,83.1 L305.8,83.8 L305.8,84.6 L305.7,85.4 L305.7,86.3 L305.6,87.1 L305.4,87.9 L305.3,88.7 L305.1,89.5 L304.8,90.3Z M304.6,91.4 L304.3,92.2 L304,93 L303.7,93.8 L303.3,94.6 L302.9,95.3 L302.5,96.1 L302.1,96.8 L301.6,97.5 L301.1,98.2 L300.6,98.8 L300.1,99.4 L299.5,100 L299,100.5 L298.4,101 L297.8,101.5 L297.2,102 L296.6,102.3 L296,102.7 L295.4,103 L294.8,103.3 L294.1,103.5 L293.5,103.7 L292.9,103.9 L292.3,104 L291.6,104 L291,104 L290.4,104 L289.8,103.9 L289.2,103.8 L288.7,103.7 L288.1,103.5 L287.6,103.2 L287,102.9 L286.5,102.6 L286,102.2 L285.6,101.8 L285.1,101.3 L284.7,100.9 L284.3,100.3 L283.9,99.8 L283.6,99.2 L283.3,98.6 L283,97.9 L282.7,97.2 L282.5,96.5 L282.3,95.8 L282.2,95.1 L282,94.3 L281.9,93.5 L281.9,92.7 L281.8,91.9 L281.8,91.1 L281.8,90.2 L281.9,89.4 L282,88.5 L282.1,87.7 L282.3,86.8 L282.5,86 L282.7,85.2 L283,84.3 L283.3,83.5 L283.6,82.7 L283.9,81.9 L284.3,81.1 L284.7,80.4 L285.1,79.6 L285.5,78.9 L286,78.2 L286.5,77.5 L287,76.9 L287.5,76.3 L288.1,75.7 L288.6,75.2 L289.2,74.7 L289.8,74.2 L290.4,73.7 L291,73.4 L291.6,73 L292.2,72.7 L292.8,72.4 L293.5,72.2 L294.1,72 L294.7,71.8 L295.3,71.7 L296,71.7 L296.6,71.7 L297.2,71.7 L297.8,71.8 L298.4,71.9 L298.9,72 L299.5,72.2 L300,72.5 L300.6,72.8 L301.1,73.1 L301.6,73.5 L302,73.9 L302.5,74.4 L302.9,74.8 L303.3,75.4 L303.7,75.9 L304,76.5 L304.3,77.1 L304.6,77.8 L304.9,78.5 L305.1,79.2 L305.3,79.9 L305.4,80.6 L305.6,81.4 L305.7,82.2 L305.7,83 L305.8,83.8 L305.8,84.6 L305.8,85.5 L305.7,86.3 L305.6,87.2 L305.5,88 L305.3,88.9 L305.1,89.7 L304.9,90.5Z M304.7,91.6 L304.4,92.4 L304,93.3 L303.7,94.1 L303.3,94.9 L302.9,95.7 L302.4,96.4 L302,97.2 L301.5,97.9 L301,98.6 L300.4,99.2 L299.9,99.8 L299.3,100.4 L298.7,101 L298.1,101.5 L297.5,102 L296.8,102.4 L296.2,102.8 L295.5,103.2 L294.8,103.5 L294.2,103.8 L293.5,104 L292.8,104.2 L292.1,104.3 L291.5,104.4 L290.8,104.5 L290.1,104.5 L289.5,104.4 L288.8,104.3 L288.2,104.2 L287.6,104 L287,103.8 L286.4,103.5 L285.8,103.2 L285.2,102.9 L284.7,102.5 L284.2,102 L283.7,101.6 L283.2,101.1 L282.8,100.5 L282.4,99.9 L282,99.3 L281.6,98.7 L281.3,98 L281,97.3 L280.8,96.5 L280.5,95.8 L280.3,95 L280.2,94.2 L280.1,93.4 L280,92.6 L279.9,91.7 L279.9,90.9 L279.9,90 L280,89.1 L280.1,88.3 L280.2,87.4 L280.4,86.5 L280.6,85.6 L280.8,84.8 L281,83.9 L281.3,83.1 L281.7,82.2 L282,81.4 L282.4,80.6 L282.8,79.8 L283.3,79.1 L283.7,78.3 L284.2,77.6 L284.7,76.9 L285.3,76.3 L285.8,75.7 L286.4,75.1 L287,74.5 L287.6,74 L288.2,73.5 L288.9,73.1 L289.5,72.7 L290.2,72.3 L290.9,72 L291.5,71.7 L292.2,71.5 L292.9,71.3 L293.6,71.2 L294.2,71.1 L294.9,71 L295.6,71 L296.2,71.1 L296.9,71.2 L297.5,71.3 L298.1,71.5 L298.7,71.7 L299.3,72 L299.9,72.3 L300.5,72.6 L301,73 L301.5,73.5 L302,73.9 L302.5,74.4 L302.9,75 L303.3,75.6 L303.7,76.2 L304.1,76.8 L304.4,77.5 L304.7,78.2 L304.9,79 L305.2,79.7 L305.4,80.5 L305.5,81.3 L305.6,82.1 L305.7,82.9 L305.8,83.8 L305.8,84.6 L305.8,85.5 L305.7,86.4 L305.6,87.2 L305.5,88.1 L305.3,89 L305.1,89.9 L304.9,90.7Z" fill="none" stroke="#7a7a7a" stroke-width="0.4"/><path d="M278,90.2 L278,89.5 L278.1,88.9 L278.1,88.2 L278.2,87.5 L278.3,86.8 L278.4,86.2 L278.6,85.5 L278.7,84.8 L278.9,84.2 L279.1,83.5 L279.3,82.8 L279.6,82.2 L279.8,81.6 L280.1,80.9 L280.4,80.3 L280.7,79.7 L281.1,79.1 L281.4,78.5 L281.8,78 L282.2,77.4 L282.6,76.9 L283,76.3 L283.4,75.8 L283.8,75.4 L284.3,74.9 L284.7,74.4 L285.2,74 L285.7,73.6 L286.2,73.2 L286.7,72.9 L287.2,72.5 L287.7,72.2 L288.3,71.9 L288.8,71.7 L289.3,71.4 L289.9,71.2 L290.4,71 L290.9,70.8 L291.5,70.7 L292,70.6 L292.6,70.5 L293.1,70.4 L293.7,70.4 L294.2,70.4 L294.7,70.4 L295.3,70.5 L295.8,70.5 L296.3,70.6 L296.8,70.8 L297.3,70.9 L297.8,71.1 L298.3,71.3 L298.8,71.5 L299.3,71.8 L299.7,72 L300.2,72.3 L300.6,72.7 L301,73 L302.5,74.3 L302.8,74.5 L303,74.8 L303.3,75.1 L303.6,75.4 L303.8,75.7 L304,76.1 L304.2,76.5 L304.5,76.9 L304.6,77.3 L304.8,77.7 L305,78.2 L305.1,78.6 L305.3,79.1 L305.4,79.6 L305.5,80.1 L305.6,80.6 L305.7,81.1 L305.7,81.6 L305.8,82.2 L305.8,82.7 L305.8,83.3 L305.8,85.1 L305.8,85.8 L305.7,86.4 L305.7,87.1 L305.6,87.8 L305.5,88.5 L305.4,89.1 L305.2,89.8 L305.1,90.5 L304.9,91.1 L304.7,91.8 L304.5,92.5 L304.2,93.1 L304,93.7 L303.7,94.4 L303.4,95 L303.1,95.6 L302.7,96.2 L302.4,96.8 L302,97.3 L301.6,97.9 L301.2,98.4 L300.8,99 L300.4,99.5 L300,99.9 L299.5,100.4 L299.1,100.9 L298.6,101.3 L298.1,101.7 L297.6,102.1 L297.1,102.4 L296.6,102.8 L296.1,103.1 L295.5,103.4 L295,103.6 L294.5,103.9 L293.9,104.1 L293.4,104.3 L292.9,104.5 L292.3,104.6 L291.8,104.7 L291.2,104.8 L290.7,104.9 L290.1,104.9 L289.6,104.9 L289.1,104.9 L288.5,104.8 L288,104.8 L287.5,104.7 L287,104.5 L286.5,104.4 L286,104.2 L285.5,104 L285,103.8 L284.5,103.5 L284.1,103.3 L283.6,103 L283.2,102.6 L282.8,102.3 L282.4,101.9 L282,101.5 L281.6,101.1 L281.2,100.7 L280.9,100.2 L280.6,99.8 L280.3,99.3 L280,98.8 L279.7,98.2 L279.5,97.7 L279.2,97.1 L279,96.5 L278.8,96 L278.6,95.4 L278.5,94.8 L278.4,94.1 L278.2,93.5 L278.2,92.9 L278.1,92.2 L278,91.5 L278,90.9Z" fill="none" stroke="#333" stroke-width="0.7"/>
<ellipse cx="295.7" cy="88" rx="9.3" ry="15.6" transform="rotate(18 295.7 88)" fill="#dcdcdc" stroke="#444" stroke-width="0.6"/>
<ellipse cx="296.5" cy="88.5" rx="7.8" ry="12" transform="rotate(18 296.5 88.5)" fill="#f4f4f4" stroke="#777" stroke-width="0.5"/>
<ellipse cx="297" cy="88.6" rx="4.6" ry="6.6" transform="rotate(18 297 88.6)" fill="#fff" stroke="#666" stroke-width="0.5"/>
<ellipse cx="297.2" cy="88.8" rx="2" ry="2.8" transform="rotate(18 297.2 88.8)" fill="#fff" stroke="#666" stroke-width="0.5"/>
<line x1="337.7" y1="110.8" x2="309.3" y2="95.8" stroke="#8a98a8" stroke-width="0.7"/><path d="M304,93 L310.2,94.1 L308.4,97.5 Z" fill="#111"/>
<path d="M348.3,116.2 L347.7,117.3 L347.1,118.5 L346.4,119.6 L345.7,120.6 L345,121.6 L344.2,122.6 L343.4,123.5 L342.5,124.3 L341.7,125.1 L340.8,125.8 L339.9,126.4 L338.9,127 L338,127.5 L337.1,127.9 L336.2,128.2 L335.3,128.5 L334.4,128.6 L333.5,128.7 L332.6,128.7 L331.8,128.6 L330.9,128.4 L330.2,128.1 L329.4,127.8 L328.7,127.4 L328,126.8 L327.4,126.3 L326.9,125.6 L326.3,124.9 L325.9,124.1 L325.5,123.2 L325.1,122.3 L324.9,121.3 L324.6,120.3 L324.5,119.3 L324.4,118.2 L324.4,117 L324.4,115.9 L324.5,114.7 L324.7,113.5 L324.9,112.2 L325.2,111 L325.5,109.8 L325.9,108.6 L326.4,107.4 L326.9,106.2 L327.5,105.1 L328.1,103.9 L328.8,102.8 L329.5,101.8 L330.2,100.8 L331,99.8 L331.8,98.9 L332.7,98.1 L333.5,97.3 L334.4,96.6 L335.3,96 L336.3,95.4 L337.2,94.9 L338.1,94.5 L339,94.2 L339.9,93.9 L340.8,93.8 L341.7,93.7 L342.6,93.7 L343.4,93.8 L344.3,94 L345,94.3 L345.8,94.6 L346.5,95 L347.2,95.6 L347.8,96.1 L348.3,96.8 L348.9,97.5 L349.3,98.3 L349.7,99.2 L350.1,100.1 L350.3,101.1 L350.6,102.1 L350.7,103.1 L350.8,104.2 L350.8,105.4 L350.8,106.5 L350.7,107.7 L350.5,108.9 L350.3,110.2 L350,111.4 L349.7,112.6 L349.3,113.8 L348.8,115Z M343.4,113.9 L343.1,114.5 L342.8,115.1 L342.4,115.7 L342.1,116.2 L341.7,116.7 L341.2,117.2 L340.8,117.7 L340.4,118.1 L339.9,118.5 L339.4,118.9 L339,119.2 L338.5,119.5 L338,119.7 L337.5,119.9 L337,120.1 L336.5,120.2 L336,120.3 L335.5,120.3 L335.1,120.3 L334.6,120.2 L334.2,120.1 L333.7,120 L333.3,119.8 L333,119.6 L332.6,119.3 L332.3,119 L331.9,118.6 L331.7,118.3 L331.4,117.8 L331.2,117.4 L331,116.9 L330.8,116.4 L330.7,115.9 L330.6,115.3 L330.5,114.7 L330.5,114.1 L330.5,113.5 L330.6,112.9 L330.7,112.3 L330.8,111.6 L330.9,111 L331.1,110.4 L331.3,109.7 L331.5,109.1 L331.8,108.5 L332.1,107.9 L332.4,107.3 L332.8,106.7 L333.1,106.2 L333.5,105.7 L334,105.2 L334.4,104.7 L334.8,104.3 L335.3,103.9 L335.8,103.5 L336.2,103.2 L336.7,102.9 L337.2,102.7 L337.7,102.5 L338.2,102.3 L338.7,102.2 L339.2,102.1 L339.7,102.1 L340.1,102.1 L340.6,102.2 L341,102.3 L341.5,102.4 L341.9,102.6 L342.2,102.8 L342.6,103.1 L342.9,103.4 L343.3,103.8 L343.5,104.1 L343.8,104.6 L344,105 L344.2,105.5 L344.4,106 L344.5,106.5 L344.6,107.1 L344.7,107.7 L344.7,108.3 L344.7,108.9 L344.6,109.5 L344.5,110.1 L344.4,110.8 L344.3,111.4 L344.1,112 L343.9,112.7 L343.7,113.3Z" fill="#f8ee8a" fill-rule="evenodd" stroke="#857f5a" stroke-width="0.7"/>
<line x1="337.6" y1="111.2" x2="344" y2="117" stroke="#777" stroke-width="0.5"/>
<text class="sb" x="272.1" y="119.2" font-size="11" textLength="16" lengthAdjust="spacingAndGlyphs">R3</text>
<path d="M408.4,59.3 L407.6,61.1 L406.8,62.9 L405.8,64.6 L404.9,66.2 L403.8,67.8 L402.7,69.3 L401.5,70.7 L400.3,72.1 L399,73.3 L397.7,74.5 L396.4,75.5 L395.1,76.4 L393.7,77.2 L392.3,77.9 L391,78.5 L389.6,78.9 L388.2,79.2 L386.9,79.4 L385.6,79.4 L384.3,79.3 L383,79.1 L381.8,78.8 L380.6,78.3 L379.5,77.7 L378.5,77 L377.5,76.2 L376.6,75.2 L375.7,74.1 L375,73 L374.3,71.7 L373.7,70.4 L373.2,68.9 L372.7,67.4 L372.4,65.8 L372.2,64.1 L372,62.4 L372,60.6 L372,58.8 L372.2,57 L372.4,55.1 L372.8,53.3 L373.2,51.4 L373.7,49.5 L374.3,47.7 L375,45.9 L375.8,44.1 L376.6,42.3 L377.6,40.6 L378.5,39 L379.6,37.4 L380.7,35.9 L381.9,34.5 L383.1,33.1 L384.4,31.9 L385.7,30.7 L387,29.7 L388.3,28.8 L389.7,28 L391.1,27.3 L392.4,26.7 L393.8,26.3 L395.2,26 L396.5,25.8 L397.8,25.8 L399.1,25.9 L400.4,26.1 L401.6,26.4 L402.8,26.9 L403.9,27.5 L404.9,28.2 L405.9,29 L406.8,30 L407.7,31.1 L408.4,32.2 L409.1,33.5 L409.7,34.8 L410.2,36.3 L410.7,37.8 L411,39.4 L411.2,41.1 L411.4,42.8 L411.4,44.6 L411.4,46.4 L411.2,48.2 L411,50.1 L410.6,51.9 L410.2,53.8 L409.7,55.7 L409.1,57.5Z M400.3,56.7 L399.9,57.7 L399.4,58.6 L398.9,59.6 L398.4,60.5 L397.8,61.4 L397.2,62.2 L396.6,63 L395.9,63.7 L395.2,64.4 L394.5,65.1 L393.8,65.6 L393.1,66.2 L392.3,66.6 L391.6,67 L390.9,67.3 L390.1,67.6 L389.4,67.8 L388.7,67.9 L388,67.9 L387.3,67.9 L386.6,67.8 L386,67.6 L385.4,67.3 L384.8,67 L384.3,66.6 L383.7,66.2 L383.3,65.7 L382.8,65.1 L382.4,64.5 L382.1,63.8 L381.8,63 L381.5,62.2 L381.3,61.4 L381.1,60.5 L381,59.6 L381,58.7 L381,57.7 L381,56.7 L381.1,55.7 L381.2,54.7 L381.4,53.6 L381.7,52.6 L382,51.6 L382.3,50.6 L382.7,49.5 L383.1,48.5 L383.6,47.6 L384.1,46.6 L384.6,45.7 L385.2,44.8 L385.8,44 L386.4,43.2 L387.1,42.5 L387.8,41.8 L388.5,41.1 L389.2,40.6 L389.9,40 L390.7,39.6 L391.4,39.2 L392.1,38.9 L392.9,38.6 L393.6,38.4 L394.3,38.3 L395,38.3 L395.7,38.3 L396.4,38.4 L397,38.6 L397.6,38.9 L398.2,39.2 L398.7,39.6 L399.3,40 L399.7,40.5 L400.2,41.1 L400.6,41.7 L400.9,42.4 L401.2,43.2 L401.5,44 L401.7,44.8 L401.9,45.7 L402,46.6 L402,47.5 L402,48.5 L402,49.5 L401.9,50.5 L401.8,51.5 L401.6,52.6 L401.3,53.6 L401,54.6 L400.7,55.6Z" fill="#f8ee8a" fill-rule="evenodd" stroke="#857f5a" stroke-width="0.7"/>
<defs><pattern id="tp" width="3.6" height="3.6" patternUnits="userSpaceOnUse" patternTransform="rotate(45)"><rect width="3.6" height="3.6" fill="#6e6e6e"/><rect x="0.65" y="0.65" width="2.5" height="2.5" fill="#f4f4f4"/></pattern></defs>
<path d="M427.8,88.6 L427.8,87.5 L427.8,86.5 L427.9,85.4 L428,84.4 L428.2,83.3 L428.4,82.3 L428.6,81.3 L428.8,80.2 L429.1,79.2 L429.5,78.2 L429.8,77.2 L430.2,76.2 L430.6,75.3 L431.1,74.3 L431.6,73.4 L432.1,72.5 L432.7,71.6 L433.3,70.7 L433.9,69.9 L434.5,69.1 L435.2,68.3 L435.9,67.5 L436.6,66.8 L437.3,66.1 L438.1,65.4 L438.9,64.8 L439.7,64.2 L440.5,63.6 L441.4,63.1 L442.2,62.6 L443.1,62.1 L444,61.7 L444.9,61.3 L445.8,60.9 L446.7,60.6 L447.6,60.4 L448.6,60.1 L449.5,59.9 L450.4,59.8 L451.4,59.7 L452.3,59.6 L453.3,59.6 L454.2,59.6 L455.2,59.7 L456.1,59.8 L457,59.9 L457.9,60.1 L458.8,60.3 L459.7,60.6 L460.6,60.9 L461.5,61.2 L462.4,61.6 L463.2,62 L464,62.5 L464.8,63 L465.6,63.5 L466.4,64.1 L467.1,64.7 L467.8,65.3 L468.5,66 L469.2,66.7 L469.8,67.4 L470.4,68.1 L471,68.9 L471.6,69.7 L472.1,70.6 L472.6,71.4 L473.1,72.3 L473.5,73.2 L473.9,74.2 L474.2,75.1 L474.6,76.1 L474.9,77 L475.1,78 L475.3,79 L475.5,80.1 L475.7,81.1 L475.8,82.1 L475.9,83.2 L475.9,84.2 L475.9,85.3 L475.8,92.4 L475.8,93.1 L475.8,93.9 L475.7,94.6 L475.6,95.4 L475.5,96.1 L475.4,96.8 L475.2,97.6 L475,98.3 L474.8,99 L474.6,99.7 L474.3,100.5 L474,101.2 L473.7,101.8 L473.4,102.5 L473.1,103.2 L472.7,103.8 L472.3,104.5 L471.9,105.1 L471.5,105.7 L471.1,106.3 L470.6,106.8 L470.2,107.4 L469.7,107.9 L469.2,108.4 L468.6,108.9 L468.1,109.4 L467.6,109.8 L467,110.2 L466.4,110.6 L465.9,111 L465.3,111.3 L464.7,111.6 L464.1,111.9 L463.5,112.2 L462.8,112.4 L462.2,112.6 L461.6,112.8 L461,112.9 L460.3,113 L459.7,113.1 L459.1,113.2 L458.4,113.2 L450.4,113.2 L449.5,113.2 L448.5,113.1 L447.6,113 L446.7,112.9 L445.8,112.7 L444.9,112.5 L444,112.2 L443.1,111.9 L442.2,111.6 L441.3,111.2 L440.5,110.8 L439.7,110.3 L438.9,109.8 L438.1,109.3 L437.3,108.7 L436.6,108.1 L435.9,107.5 L435.2,106.8 L434.5,106.1 L433.9,105.4 L433.3,104.7 L432.7,103.9 L432.1,103.1 L431.6,102.2 L431.1,101.4 L430.6,100.5 L430.2,99.6 L429.8,98.6 L429.5,97.7 L429.1,96.7 L428.8,95.8 L428.6,94.8 L428.4,93.8 L428.2,92.7 L428,91.7 L427.9,90.7 L427.8,89.6Z" fill="#8a8a8a" stroke="#222" stroke-width="0.8"/><path d="M474.9,98.7 L474,101 L474,100.3 L474.8,97.9Z M474.2,99.4 L473.1,101.8 L473,101.3 L474.1,98.8Z M474.8,96.5 L473.8,99.1 L473.7,98.5 L474.7,95.7Z M474,97.5 L472.8,100.2 L472.7,99.7 L473.9,96.8Z M474.7,94.3 L473.6,97.3 L473.5,96.7 L474.7,93.5Z M473.6,102 L472.4,104.1 L472.3,103.7 L473.5,101.5Z M472.5,102.9 L471.1,105.1 L470.9,104.7 L472.4,102.4Z M473.3,100.3 L471.9,102.8 L471.8,102.4 L473.2,99.8Z M472.1,101.5 L470.4,103.9 L470.2,103.6 L471.9,101Z M473,98.7 L471.4,101.5 L471.3,101 L472.9,98.1Z M471.8,105.1 L470.4,107 L470.1,106.7 L471.6,104.7Z M470.4,106 L468.7,107.9 L468.3,107.6 L470.1,105.7Z M471.2,103.9 L469.5,106.1 L469.2,105.8 L471,103.5Z M469.6,105 L467.6,107.2 L467.2,106.9 L469.3,104.7Z M470.6,102.7 L468.6,105.2 L468.3,104.9 L470.4,102.3Z M469.7,107.8 L468,109.4 L467.5,109.2 L469.3,107.5Z M467.8,108.7 L465.9,110.2 L465.3,110 L467.4,108.5Z M468.6,107 L466.6,108.8 L466.2,108.6 L468.3,106.8Z M466.6,108.1 L464.3,109.8 L463.7,109.7 L466.1,107.9Z M467.6,106.2 L465.3,108.3 L464.9,108.1 L467.3,106Z M467.1,110 L465.3,111.2 L464.6,111.1 L466.6,109.9Z M464.9,110.8 L462.8,111.9 L462,111.8 L464.3,110.7Z M465.6,109.6 L463.4,111 L462.8,110.9 L465.1,109.4Z M463.1,110.5 L460.7,111.7 L459.9,111.6 L462.6,110.4Z M464.2,109.1 L461.6,110.7 L461,110.6 L463.7,109Z M464.3,111.7 L462.4,112.5 L461.5,112.5 L463.7,111.6Z M461.7,112.3 L459.5,112.9 L458.6,112.9 L461,112.2Z M462.3,111.5 L460,112.4 L459.1,112.4 L461.6,111.4Z M459.4,112.2 L456.8,112.8 L455.9,112.8 L458.7,112.1Z M460.3,111.3 L457.6,112.3 L456.7,112.3 L459.6,111.3Z M461.4,112.8 L459.3,113.1 L458.3,113.1 L460.5,112.7Z M458.5,113.1 L456.2,113.2 L455.1,113.2 L457.5,113.1Z M458.8,112.7 L456.4,113.1 L455.4,113.1 L457.9,112.7Z M455.6,113 L452.9,113.2 L451.8,113.2 L454.6,113Z M456.2,112.7 L453.4,113.1 L452.4,113.1 L455.4,112.7Z M458.4,113.2 L456.3,113.1 L455.1,113.1 L457.3,113.2Z M455.1,113.2 L452.9,112.8 L451.6,112.8 L454,113.1Z M455.2,113.2 L452.8,113.1 L451.6,113.1 L454.1,113.2Z M451.7,113.1 L449.1,112.7 L447.8,112.7 L450.5,113.1Z M452,113.2 L449.2,113.1 L448,113 L451,113.2Z M455.4,113 L453.4,112.4 L452,112.4 L454.1,112.9Z M451.9,112.5 L449.9,111.7 L448.4,111.6 L450.6,112.5Z M451.6,112.9 L449.3,112.3 L447.9,112.2 L450.4,112.9Z M447.9,112.4 L445.4,111.5 L443.9,111.4 L446.5,112.4Z M447.9,112.8 L445.2,112.1 L443.8,112.1 L446.6,112.8Z M452.6,112.1 L450.8,111.1 L449.2,111 L451.1,112Z M448.9,111.2 L447,110 L445.4,109.8 L447.4,111.1Z M448.2,111.9 L446.1,110.7 L444.5,110.6 L446.8,111.8Z M444.3,110.9 L442.1,109.4 L440.4,109.3 L442.8,110.8Z M443.9,111.6 L441.4,110.3 L439.8,110.2 L442.5,111.6Z M449.9,110.6 L448.4,109.3 L446.6,109 L448.3,110.4Z M446.2,109.3 L444.6,107.7 L442.8,107.3 L444.5,109.1Z M445.1,110.1 L443.2,108.5 L441.4,108.3 L443.5,109.9Z M441.1,108.6 L439.2,106.7 L437.4,106.4 L439.4,108.4Z M440.3,109.6 L438,107.8 L436.3,107.6 L438.6,109.4Z M447.7,108.5 L446.3,106.9 L444.4,106.5 L445.9,108.3Z M443.9,106.8 L442.6,104.8 L440.7,104.3 L442,106.4Z M442.4,107.7 L440.8,105.7 L438.9,105.3 L440.6,107.4Z M438.4,105.7 L436.9,103.4 L434.9,103 L436.5,105.4Z M437.1,106.8 L435.2,104.6 L433.3,104.2 L435.3,106.6Z M445.8,106 L444.8,104 L442.8,103.5 L443.8,105.6Z M442.1,103.8 L441.1,101.5 L439.1,100.9 L440.1,103.3Z M440.1,104.7 L438.8,102.4 L436.8,101.8 L438.1,104.3Z M436.2,102.3 L435.1,99.6 L433,99 L434.2,101.7Z M434.4,103.4 L432.9,100.8 L430.9,100.2 L432.5,103Z M444.4,103 L443.7,100.8 L441.6,100.1 L442.3,102.4Z M440.8,100.4 L440.2,97.9 L438.1,97.1 L438.7,99.7Z M438.4,101.2 L437.5,98.7 L435.4,98 L436.3,100.6Z M434.7,98.4 L434,95.5 L431.9,94.7 L432.6,97.7Z M432.4,99.5 L431.4,96.5 L429.3,95.8 L430.3,98.9Z M443.5,99.8 L443.2,97.4 L441,96.5 L441.3,99Z M440.1,96.7 L439.9,94.2 L437.8,93.1 L437.9,95.9Z M437.3,97.4 L436.9,94.7 L434.7,93.8 L435.1,96.6Z M433.8,94.1 L433.6,91.2 L431.5,90.1 L431.7,93.2Z M431,95.1 L430.6,92 L428.4,91.1 L428.9,94.3Z M443.1,96.3 L443.2,93.9 L441,92.8 L441,95.3Z M440,92.9 L440.2,90.3 L438.1,89.1 L437.8,91.8Z M436.8,93.4 L436.9,90.6 L434.7,89.5 L434.6,92.4Z M433.6,89.7 L433.9,86.7 L431.8,85.5 L431.5,88.7Z M430.5,90.5 L430.5,87.3 L428.4,86.2 L428.3,89.5Z M443.3,92.7 L443.7,90.3 L441.6,89 L441.2,91.6Z M440.5,89.1 L441.2,86.5 L439.1,85.1 L438.3,87.8Z M437,89.3 L437.5,86.5 L435.4,85.2 L434.8,88.1Z M434.2,85.3 L435,82.4 L432.9,81 L432.1,84.1Z M430.7,85.8 L431.3,82.6 L429.1,81.3 L428.5,84.6Z M444,89.2 L444.9,86.9 L442.8,85.4 L441.9,87.9Z M441.6,85.4 L442.6,83 L440.6,81.4 L439.5,83.9Z M437.9,85.2 L438.8,82.5 L436.7,81 L435.7,83.8Z M435.5,81.1 L436.7,78.3 L434.7,76.7 L433.4,79.6Z M431.7,81.2 L432.7,78.1 L430.7,76.6 L429.5,79.8Z M445.3,85.9 L446.5,83.8 L444.5,82.1 L443.3,84.3Z M443.2,81.9 L444.6,79.7 L442.7,78 L441.2,80.3Z M439.3,81.3 L440.7,78.8 L438.7,77.2 L437.3,79.8Z M437.4,77.1 L439,74.6 L437.1,72.8 L435.4,75.4Z M433.4,76.7 L434.9,73.9 L432.9,72.3 L431.3,75.2Z M447.1,82.8 L448.5,80.9 L446.7,79.1 L445.1,81.1Z M445.4,78.8 L447.1,76.9 L445.3,75 L443.5,77Z M441.4,77.8 L443.1,75.6 L441.3,73.8 L439.5,76Z M439.9,73.5 L441.9,71.4 L440.1,69.5 L438,71.7Z M435.7,72.7 L437.7,70.2 L435.9,68.4 L433.8,71Z M449.2,80.1 L450.9,78.5 L449.2,76.6 L447.5,78.3Z M447.9,76.1 L449.9,74.6 L448.3,72.6 L446.2,74.2Z M444,74.6 L446,72.8 L444.3,70.9 L442.2,72.8Z M442.9,70.5 L445.2,68.8 L443.6,66.8 L441.2,68.5Z M438.7,69.2 L441,67.1 L439.3,65.2 L436.9,67.3Z M451.8,77.9 L453.6,76.7 L452.1,74.7 L450.1,75.9Z M450.9,74 L453,72.9 L451.6,70.9 L449.3,72Z M447,72.1 L449.2,70.7 L447.7,68.7 L445.3,70.1Z M446.3,68.1 L448.8,66.8 L447.4,64.8 L444.8,66Z M442.2,66.3 L444.8,64.7 L443.3,62.7 L440.6,64.3Z M454.5,76.2 L456.5,75.4 L455.2,73.3 L453.1,74.2Z M454,72.5 L456.2,71.9 L455,69.8 L452.7,70.4Z M450.3,70.2 L452.7,69.3 L451.3,67.2 L448.8,68.1Z M450,66.4 L452.7,65.7 L451.4,63.6 L448.7,64.3Z M446,64.1 L448.8,63.1 L447.5,61 L444.6,62Z M457.5,75.1 L459.6,74.8 L458.4,72.7 L456.2,73Z M457.3,71.7 L459.6,71.6 L458.5,69.5 L456.1,69.6Z M453.8,68.9 L456.2,68.5 L455.1,66.4 L452.5,66.8Z M453.9,65.5 L456.5,65.3 L455.5,63.2 L452.7,63.4Z M450.1,62.7 L452.9,62.3 L451.8,60.2 L448.8,60.6Z M460.5,74.7 L462.6,74.8 L461.6,72.7 L459.5,72.6Z M460.6,71.6 L462.8,72 L462,69.9 L459.7,69.5Z M457.4,68.5 L459.8,68.6 L458.9,66.5 L456.3,66.3Z M457.8,65.4 L460.4,65.8 L459.6,63.7 L456.8,63.3Z M454.3,62.2 L457.1,62.4 L456.2,60.3 L453.2,60.1Z M463.5,74.9 L465.5,75.5 L464.7,73.4 L462.6,72.8Z M463.8,72.2 L465.9,73 L465.3,71 L463.1,70.2Z M461,68.8 L463.3,69.4 L462.6,67.3 L460.1,66.7Z M461.6,66.1 L464,67.1 L463.4,65 L460.8,64.1Z M458.4,62.6 L461.2,63.3 L460.4,61.2 L457.6,60.5Z M466.3,75.8 L468.1,76.8 L467.6,74.8 L465.7,73.8Z M466.8,73.5 L468.7,74.8 L468.2,72.8 L466.3,71.5Z M464.4,69.8 L466.5,70.9 L466,68.9 L463.7,67.8Z M465.1,67.6 L467.4,69.1 L466.9,67.2 L464.6,65.6Z M462.4,63.8 L464.9,65.1 L464.4,63.1 L461.7,61.7Z M468.9,77.3 L470.5,78.6 L470.2,76.8 L468.5,75.3Z M469.5,75.5 L471.2,77.1 L470.8,75.3 L469.1,73.6Z M467.5,71.6 L469.4,73.1 L469,71.3 L467,69.6Z M468.3,69.9 L470.3,71.8 L469.9,70 L467.9,68Z M466.1,65.8 L468.3,67.6 L467.9,65.7 L465.6,63.9Z M471.2,79.4 L472.6,81 L472.3,79.3 L470.9,77.5Z M471.8,78 L473.1,80 L473,78.3 L471.6,76.2Z M470.3,74 L471.9,75.9 L471.6,74.2 L469.9,72.1Z M471.1,72.8 L472.6,75.1 L472.4,73.5 L470.8,71Z M469.3,68.6 L471.2,70.8 L470.9,69.1 L469,66.7Z M473.1,81.9 L474.1,83.9 L474,82.3 L472.9,80.2Z M473.7,81 L474.6,83.3 L474.5,81.8 L473.5,79.4Z M472.5,77 L473.8,79.3 L473.6,77.7 L472.3,75.3Z M473.3,76.3 L474.4,78.9 L474.3,77.4 L473.1,74.7Z M471.9,72 L473.4,74.6 L473.3,73.1 L471.8,70.3Z M474.5,84.9 L475.2,87.1 L475.2,85.7 L474.4,83.4Z M475,84.4 L475.5,86.8 L475.5,85.6 L474.9,83Z M474.3,80.4 L475.1,83 L475,81.6 L474.2,78.9Z M474.8,80.2 L475.5,83 L475.5,81.7 L474.8,78.8Z M474,76 L475,78.9 L474.9,77.5 L473.9,74.4Z M475.4,88.1 L475.7,90.5 L475.7,89.3 L475.4,86.8Z M475.7,88 L475.8,90.6 L475.8,89.5 L475.7,86.8Z M475.4,84.2 L475.8,87 L475.8,85.8 L475.3,82.9Z M475.7,84.4 L475.9,87.4 L475.9,86.3 L475.7,83.2Z M475.3,80.3 L475.8,83.4 L475.8,82.2 L475.3,79Z M475.8,91.6 L475.7,94 L475.7,93 L475.8,90.5Z M475.8,91.9 L475.5,94.5 L475.5,93.6 L475.8,90.8Z M475.8,88.3 L475.8,91.1 L475.8,90.1 L475.8,87.1Z M475.8,88.8 L475.5,91.8 L475.5,90.9 L475.8,87.8Z M475.9,84.9 L475.8,88.1 L475.8,87.1 L475.9,83.8Z M475.6,95.2 L475.2,97.6 L475.1,96.8 L475.6,94.2Z M475.3,95.7 L474.6,98.2 L474.6,97.5 L475.3,94.8Z M475.6,92.4 L475.1,95.2 L475.1,94.4 L475.6,91.5Z M475.3,93.2 L474.5,96.1 L474.4,95.4 L475.3,92.4Z M475.7,89.6 L475.1,92.8 L475.1,92 L475.7,88.7Z" fill="#f2f2f2" stroke="#666" stroke-width="0.3"/><path d="M427.8,88.6 L427.8,87.5 L427.8,86.5 L427.9,85.4 L428,84.4 L428.2,83.3 L428.4,82.3 L428.6,81.3 L428.8,80.2 L429.1,79.2 L429.5,78.2 L429.8,77.2 L430.2,76.2 L430.6,75.3 L431.1,74.3 L431.6,73.4 L432.1,72.5 L432.7,71.6 L433.3,70.7 L433.9,69.9 L434.5,69.1 L435.2,68.3 L435.9,67.5 L436.6,66.8 L437.3,66.1 L438.1,65.4 L438.9,64.8 L439.7,64.2 L440.5,63.6 L441.4,63.1 L442.2,62.6 L443.1,62.1 L444,61.7 L444.9,61.3 L445.8,60.9 L446.7,60.6 L447.6,60.4 L448.6,60.1 L449.5,59.9 L450.4,59.8 L451.4,59.7 L452.3,59.6 L453.3,59.6 L454.2,59.6 L455.2,59.7 L456.1,59.8 L457,59.9 L457.9,60.1 L458.8,60.3 L459.7,60.6 L460.6,60.9 L461.5,61.2 L462.4,61.6 L463.2,62 L464,62.5 L464.8,63 L465.6,63.5 L466.4,64.1 L467.1,64.7 L467.8,65.3 L468.5,66 L469.2,66.7 L469.8,67.4 L470.4,68.1 L471,68.9 L471.6,69.7 L472.1,70.6 L472.6,71.4 L473.1,72.3 L473.5,73.2 L473.9,74.2 L474.2,75.1 L474.6,76.1 L474.9,77 L475.1,78 L475.3,79 L475.5,80.1 L475.7,81.1 L475.8,82.1 L475.9,83.2 L475.9,84.2 L475.9,85.3 L475.8,92.4 L475.8,93.1 L475.8,93.9 L475.7,94.6 L475.6,95.4 L475.5,96.1 L475.4,96.8 L475.2,97.6 L475,98.3 L474.8,99 L474.6,99.7 L474.3,100.5 L474,101.2 L473.7,101.8 L473.4,102.5 L473.1,103.2 L472.7,103.8 L472.3,104.5 L471.9,105.1 L471.5,105.7 L471.1,106.3 L470.6,106.8 L470.2,107.4 L469.7,107.9 L469.2,108.4 L468.6,108.9 L468.1,109.4 L467.6,109.8 L467,110.2 L466.4,110.6 L465.9,111 L465.3,111.3 L464.7,111.6 L464.1,111.9 L463.5,112.2 L462.8,112.4 L462.2,112.6 L461.6,112.8 L461,112.9 L460.3,113 L459.7,113.1 L459.1,113.2 L458.4,113.2 L450.4,113.2 L449.5,113.2 L448.5,113.1 L447.6,113 L446.7,112.9 L445.8,112.7 L444.9,112.5 L444,112.2 L443.1,111.9 L442.2,111.6 L441.3,111.2 L440.5,110.8 L439.7,110.3 L438.9,109.8 L438.1,109.3 L437.3,108.7 L436.6,108.1 L435.9,107.5 L435.2,106.8 L434.5,106.1 L433.9,105.4 L433.3,104.7 L432.7,103.9 L432.1,103.1 L431.6,102.2 L431.1,101.4 L430.6,100.5 L430.2,99.6 L429.8,98.6 L429.5,97.7 L429.1,96.7 L428.8,95.8 L428.6,94.8 L428.4,93.8 L428.2,92.7 L428,91.7 L427.9,90.7 L427.8,89.6Z" fill="none" stroke="#222" stroke-width="0.8"/>
<ellipse cx="459.7" cy="94.2" rx="15.9" ry="19.2" transform="rotate(15 459.7 94.2)" fill="#f2f2f2" stroke="#333" stroke-width="0.6"/>
<ellipse cx="459" cy="92.6" rx="11.6" ry="14.8" transform="rotate(15 459 92.6)" fill="#bdbdbd" stroke="#333" stroke-width="0.8"/>
<ellipse cx="459.4" cy="92.9" rx="8.6" ry="11.2" transform="rotate(15 459.4 92.9)" fill="#d0d0d0" stroke="#444" stroke-width="0.6"/>
<ellipse cx="459.6" cy="93" rx="6" ry="8" transform="rotate(15 459.6 93)" fill="#b8b8b8" stroke="#555" stroke-width="0.5"/>
<ellipse cx="459.5" cy="93" rx="3" ry="4" transform="rotate(15 459.5 93)" fill="#eee" stroke="#444" stroke-width="0.5"/>
<line x1="410" y1="66" x2="425.5" y2="72.8" stroke="#8a98a8" stroke-width="0.7"/><path d="M431,75.2 L424.7,74.5 L426.3,71.1 Z" fill="#111"/>
<line x1="505" y1="118" x2="475.9" y2="101.7" stroke="#8a98a8" stroke-width="0.7"/><path d="M470.7,98.8 L476.9,100.1 L475,103.4 Z" fill="#111"/>
<path d="M526.6,128.2 L525.7,130 L524.8,131.7 L523.8,133.3 L522.7,134.9 L521.6,136.4 L520.4,137.9 L519.1,139.2 L517.9,140.5 L516.5,141.7 L515.2,142.7 L513.8,143.7 L512.4,144.5 L511,145.3 L509.6,145.9 L508.2,146.4 L506.8,146.7 L505.4,147 L504.1,147.1 L502.8,147.1 L501.5,146.9 L500.2,146.6 L499,146.2 L497.9,145.7 L496.8,145 L495.8,144.3 L494.9,143.4 L494,142.4 L493.2,141.3 L492.5,140.1 L491.9,138.8 L491.4,137.4 L490.9,135.9 L490.6,134.4 L490.3,132.8 L490.2,131.1 L490.1,129.4 L490.2,127.6 L490.3,125.8 L490.6,124 L490.9,122.1 L491.4,120.3 L491.9,118.4 L492.5,116.6 L493.2,114.8 L494,113 L494.9,111.2 L495.8,109.5 L496.8,107.9 L497.9,106.3 L499,104.8 L500.2,103.3 L501.5,102 L502.7,100.7 L504.1,99.5 L505.4,98.5 L506.8,97.5 L508.2,96.7 L509.6,95.9 L511,95.3 L512.4,94.8 L513.8,94.5 L515.2,94.2 L516.5,94.1 L517.8,94.1 L519.1,94.3 L520.4,94.6 L521.6,95 L522.7,95.5 L523.8,96.2 L524.8,96.9 L525.7,97.8 L526.6,98.8 L527.4,99.9 L528.1,101.1 L528.7,102.4 L529.2,103.8 L529.7,105.3 L530,106.8 L530.3,108.4 L530.4,110.1 L530.5,111.8 L530.4,113.6 L530.3,115.4 L530,117.2 L529.7,119.1 L529.2,120.9 L528.7,122.8 L528.1,124.6 L527.4,126.4Z M518.9,124.6 L518.4,125.6 L517.9,126.5 L517.4,127.4 L516.8,128.2 L516.2,129 L515.6,129.8 L514.9,130.5 L514.2,131.2 L513.5,131.8 L512.8,132.4 L512.1,132.9 L511.4,133.4 L510.6,133.8 L509.9,134.1 L509.1,134.4 L508.4,134.6 L507.6,134.7 L506.9,134.8 L506.2,134.8 L505.6,134.7 L504.9,134.5 L504.3,134.3 L503.7,134 L503.1,133.7 L502.6,133.3 L502.1,132.8 L501.6,132.3 L501.2,131.7 L500.8,131.1 L500.5,130.4 L500.2,129.6 L500,128.8 L499.8,128 L499.7,127.2 L499.6,126.3 L499.6,125.3 L499.6,124.4 L499.7,123.4 L499.9,122.5 L500,121.5 L500.3,120.5 L500.6,119.5 L500.9,118.5 L501.3,117.5 L501.7,116.6 L502.2,115.6 L502.7,114.7 L503.2,113.8 L503.8,113 L504.4,112.2 L505,111.4 L505.7,110.7 L506.4,110 L507.1,109.4 L507.8,108.8 L508.5,108.3 L509.2,107.8 L510,107.4 L510.7,107.1 L511.5,106.8 L512.2,106.6 L513,106.5 L513.7,106.4 L514.4,106.4 L515,106.5 L515.7,106.7 L516.3,106.9 L516.9,107.2 L517.5,107.5 L518,107.9 L518.5,108.4 L519,108.9 L519.4,109.5 L519.8,110.1 L520.1,110.8 L520.4,111.6 L520.6,112.4 L520.8,113.2 L520.9,114 L521,114.9 L521,115.9 L521,116.8 L520.9,117.8 L520.7,118.7 L520.6,119.7 L520.3,120.7 L520,121.7 L519.7,122.7 L519.3,123.7Z" fill="#f8ee8a" fill-rule="evenodd" stroke="#857f5a" stroke-width="0.7"/>
<line x1="510.3" y1="120.6" x2="517" y2="126" stroke="#777" stroke-width="0.5"/>
<text class="sb" x="398.5" y="133" font-size="11" textLength="15" lengthAdjust="spacingAndGlyphs">R2</text>
<rect x="422.5" y="123.8" width="11" height="10.4" fill="#fff" stroke="#666" stroke-width="0.7"/>
<circle cx="428" cy="129" r="3.4" fill="#fff" stroke="#222" stroke-width="0.5"/><path d="M428,125.6 A1.7,1.7 0 0 1 428,129 A1.7,1.7 0 0 0 428,132.4 A3.4,3.4 0 0 1 428,125.6Z" fill="#111" transform="rotate(-50 428 129)"/>
<text class="sb" x="440.7" y="133" font-size="11" textLength="15" lengthAdjust="spacingAndGlyphs">R1</text>
<line x1="180" y1="257.5" x2="146" y2="293" stroke="#a4d4e8" stroke-width="0.85"/>
<line x1="222.5" y1="289.5" x2="134" y2="318" stroke="#a4d4e8" stroke-width="0.85"/>
<path d="M86.8,316.1 L86.8,314.6 L86.9,313.1 L87.1,311.5 L87.3,310 L87.5,308.5 L87.8,307 L88.1,305.5 L88.5,304 L89,302.5 L89.4,301 L89.9,299.6 L90.5,298.1 L91.1,296.7 L91.8,295.3 L92.5,293.9 L93.2,292.6 L94,291.3 L94.8,290 L95.6,288.8 L96.5,287.5 L97.4,286.4 L98.4,285.2 L99.4,284.1 L100.4,283.1 L101.4,282.1 L102.5,281.1 L103.6,280.2 L104.7,279.3 L105.8,278.5 L107,277.7 L108.2,277 L109.4,276.3 L110.6,275.7 L111.8,275.2 L113,274.7 L114.3,274.2 L115.5,273.9 L116.7,273.5 L118,273.3 L119.3,273.1 L120.5,272.9 L121.8,272.8 L123,272.8 L124.2,272.8 L125.5,272.9 L126.7,273.1 L127.9,273.3 L129.1,273.6 L130.3,273.9 L131.4,274.3 L132.6,274.7 L133.7,275.2 L134.8,275.8 L135.9,276.4 L136.9,277.1 L137.9,277.8 L138.9,278.5 L139.9,279.4 L140.8,280.2 L141.7,281.2 L142.6,282.1 L143.4,283.1 L144.2,284.2 L144.9,285.3 L145.6,286.4 L146.3,287.6 L146.9,288.8 L147.4,290.1 L148,291.4 L148.5,292.7 L148.9,294 L149.3,295.4 L149.6,296.8 L149.9,298.2 L150.2,299.7 L150.4,301.1 L150.8,305.2 L150.9,306.3 L151,307.5 L151,308.7 L151,309.9 L150.9,311.1 L150.9,312.3 L150.7,313.5 L150.6,314.8 L150.4,316 L150.2,317.2 L149.9,318.5 L149.6,319.7 L149.3,321 L148.9,322.2 L148.5,323.4 L148.1,324.6 L147.6,325.8 L147.1,327 L146.6,328.2 L146,329.3 L145.4,330.5 L144.8,331.6 L144.2,332.7 L143.5,333.8 L142.8,334.8 L142.1,335.9 L141.3,336.9 L140.6,337.8 L139.8,338.8 L139,339.7 L138.1,340.5 L137.3,341.4 L136.4,342.2 L135.6,342.9 L134.7,343.6 L133.8,344.3 L132.9,344.9 L131.9,345.5 L131,346.1 L130.1,346.6 L129.1,347.1 L128.2,347.5 L127.3,347.8 L126.3,348.2 L125.4,348.4 L122,349.3 L120.8,349.7 L119.5,349.9 L118.2,350.1 L117,350.3 L115.7,350.4 L114.5,350.4 L113.3,350.4 L112,350.3 L110.8,350.1 L109.6,349.9 L108.4,349.6 L107.2,349.3 L106.1,348.9 L104.9,348.5 L103.8,348 L102.7,347.4 L101.6,346.8 L100.6,346.1 L99.6,345.4 L98.6,344.7 L97.6,343.8 L96.7,343 L95.8,342 L94.9,341.1 L94.1,340.1 L93.3,339 L92.6,337.9 L91.9,336.8 L91.2,335.6 L90.6,334.4 L90.1,333.1 L89.5,331.8 L89,330.5 L88.6,329.2 L88.2,327.8 L87.9,326.4 L87.6,325 L87.3,323.5 L87.1,322.1 L87,320.6 L86.9,319.1 L86.8,317.6Z" fill="#ececec" stroke="#222" stroke-width="1.0"/><path d="M147.7,325.3 L147,326.9 L146.3,328.5 L145.5,330 L144.7,331.6 L143.8,333.1 L142.9,334.5 L141.9,335.9 L140.9,337.3 L139.8,338.5 L138.7,339.8 L137.6,340.9 L136.4,342 L135.2,343.1 L134,344 L132.7,344.9 L131.5,345.7 L130.2,346.5 L128.9,347.1 L127.6,347.7 L126.3,348.1 L125,348.5 L123.7,348.8 L122.4,349.1 L121.1,349.2 L119.9,349.2 L118.6,349.2 L117.4,349.1 L116.2,348.8 L115,348.5 L113.9,348.1 L112.7,347.6 L111.7,347.1 L110.6,346.4 L109.6,345.7 L108.7,344.9 L107.8,344 L106.9,343 L106.1,342 L105.4,340.9 L104.7,339.7 L104.1,338.5 L103.5,337.2 L103,335.9 L102.5,334.5 L102.1,333 L101.8,331.5 L101.6,330 L101.4,328.4 L101.3,326.8 L101.2,325.2 L101.3,323.6 L101.4,321.9 L101.5,320.2 L101.7,318.5 L102,316.8 L102.4,315.1 L102.8,313.4 L103.3,311.8 L103.9,310.1 L104.5,308.4 L105.1,306.8 L105.9,305.2 L106.6,303.6 L107.5,302.1 L108.4,300.6 L109.3,299.2 L110.3,297.8 L111.3,296.4 L112.4,295.1 L113.5,293.9 L114.6,292.8 L115.8,291.7 L117,290.6 L118.2,289.7 L119.4,288.8 L120.7,288 L122,287.2 L123.3,286.6 L124.6,286 L125.9,285.5 L127.2,285.1 L128.5,284.8 L129.8,284.6 L131,284.5 L132.3,284.4 L133.6,284.5 L134.8,284.6 L136,284.8 L137.2,285.2 L138.3,285.6 L139.4,286 L140.5,286.6 L141.5,287.3 L142.5,288 L143.5,288.8 L144.4,289.7 L145.2,290.6 L146,291.7 L146.8,292.8 L147.5,294 L148.1,295.2 L148.7,296.5 L149.2,297.8 L149.6,299.2 L150,300.7 L150.3,302.2 L150.6,303.7 L150.8,305.3 L150.9,306.9 L150.9,308.5 L150.9,310.1 L150.8,311.8 L150.7,313.5 L150.4,315.2 L150.1,316.9 L149.8,318.6 L149.4,320.3 L148.9,321.9 L148.3,323.6Z M147.8,324.7 L147.1,326.4 L146.4,328 L145.6,329.6 L144.8,331.2 L143.9,332.7 L142.9,334.2 L142,335.6 L140.9,337 L139.8,338.3 L138.7,339.6 L137.5,340.8 L136.3,341.9 L135.1,343 L133.9,344 L132.6,344.9 L131.3,345.7 L130,346.5 L128.7,347.1 L127.3,347.7 L126,348.2 L124.6,348.6 L123.3,349 L121.9,349.2 L120.6,349.3 L119.3,349.4 L118,349.3 L116.7,349.2 L115.5,349 L114.2,348.7 L113,348.3 L111.9,347.8 L110.7,347.2 L109.6,346.6 L108.6,345.8 L107.6,345 L106.6,344.1 L105.7,343.1 L104.9,342 L104.1,340.9 L103.3,339.7 L102.7,338.5 L102,337.2 L101.5,335.8 L101,334.4 L100.6,332.9 L100.2,331.3 L99.9,329.8 L99.7,328.2 L99.6,326.5 L99.5,324.9 L99.5,323.2 L99.5,321.5 L99.7,319.8 L99.9,318 L100.2,316.3 L100.5,314.5 L100.9,312.8 L101.4,311.1 L101.9,309.4 L102.5,307.7 L103.2,306 L103.9,304.4 L104.7,302.8 L105.5,301.2 L106.4,299.7 L107.4,298.2 L108.4,296.8 L109.4,295.4 L110.5,294 L111.6,292.8 L112.8,291.6 L114,290.5 L115.2,289.4 L116.5,288.4 L117.7,287.5 L119,286.7 L120.4,285.9 L121.7,285.2 L123,284.6 L124.4,284.1 L125.7,283.7 L127,283.4 L128.4,283.2 L129.7,283 L131,283 L132.3,283 L133.6,283.2 L134.9,283.4 L136.1,283.7 L137.3,284.1 L138.5,284.6 L139.6,285.2 L140.7,285.8 L141.8,286.6 L142.8,287.4 L143.7,288.3 L144.6,289.3 L145.5,290.3 L146.3,291.5 L147,292.6 L147.7,293.9 L148.3,295.2 L148.9,296.6 L149.3,298 L149.8,299.5 L150.1,301 L150.4,302.6 L150.6,304.2 L150.8,305.8 L150.8,307.5 L150.9,309.2 L150.8,310.9 L150.7,312.6 L150.5,314.4 L150.2,316.1 L149.8,317.8 L149.4,319.6 L149,321.3 L148.4,323Z M147.9,324.1 L147.3,325.8 L146.5,327.5 L145.7,329.2 L144.9,330.8 L144,332.3 L143,333.9 L142,335.3 L141,336.8 L139.9,338.1 L138.7,339.4 L137.5,340.6 L136.3,341.8 L135.1,342.9 L133.8,343.9 L132.5,344.9 L131.1,345.7 L129.8,346.5 L128.4,347.2 L127,347.8 L125.6,348.3 L124.3,348.7 L122.9,349.1 L121.5,349.3 L120.1,349.5 L118.7,349.5 L117.4,349.5 L116,349.4 L114.7,349.1 L113.5,348.8 L112.2,348.4 L111,347.9 L109.8,347.4 L108.6,346.7 L107.5,345.9 L106.5,345.1 L105.5,344.2 L104.5,343.2 L103.6,342.1 L102.8,340.9 L102,339.7 L101.3,338.4 L100.6,337.1 L100,335.7 L99.5,334.2 L99,332.7 L98.6,331.2 L98.3,329.6 L98,327.9 L97.8,326.2 L97.7,324.5 L97.7,322.8 L97.7,321.1 L97.8,319.3 L98,317.5 L98.3,315.8 L98.6,314 L99,312.2 L99.5,310.4 L100,308.7 L100.6,306.9 L101.2,305.2 L102,303.6 L102.8,301.9 L103.6,300.3 L104.5,298.7 L105.5,297.2 L106.5,295.7 L107.5,294.3 L108.6,293 L109.8,291.7 L111,290.4 L112.2,289.3 L113.4,288.2 L114.7,287.1 L116,286.2 L117.4,285.3 L118.7,284.6 L120.1,283.9 L121.5,283.3 L122.9,282.8 L124.2,282.3 L125.6,282 L127,281.7 L128.4,281.6 L129.8,281.5 L131.1,281.6 L132.5,281.7 L133.8,281.9 L135,282.2 L136.3,282.6 L137.5,283.1 L138.7,283.7 L139.9,284.4 L141,285.1 L142,286 L143,286.9 L144,287.9 L144.9,289 L145.7,290.1 L146.5,291.3 L147.2,292.6 L147.9,294 L148.5,295.4 L149,296.8 L149.5,298.3 L149.9,299.9 L150.2,301.5 L150.5,303.1 L150.7,304.8 L150.8,306.5 L150.8,308.2 L150.8,310 L150.7,311.8 L150.5,313.5 L150.2,315.3 L149.9,317.1 L149.5,318.9 L149,320.6 L148.5,322.4Z M148,323.6 L147.4,325.3 L146.6,327 L145.8,328.7 L145,330.4 L144.1,332 L143.1,333.5 L142.1,335.1 L141,336.5 L139.9,337.9 L138.7,339.2 L137.5,340.5 L136.3,341.7 L135,342.8 L133.7,343.9 L132.3,344.8 L131,345.7 L129.6,346.5 L128.2,347.2 L126.7,347.9 L125.3,348.4 L123.9,348.8 L122.4,349.2 L121,349.4 L119.6,349.6 L118.2,349.7 L116.8,349.6 L115.4,349.5 L114,349.3 L112.7,349 L111.4,348.6 L110.1,348.1 L108.9,347.5 L107.7,346.8 L106.5,346 L105.4,345.2 L104.3,344.2 L103.3,343.2 L102.4,342.1 L101.5,341 L100.6,339.7 L99.9,338.4 L99.1,337 L98.5,335.6 L97.9,334.1 L97.4,332.6 L97,331 L96.6,329.3 L96.3,327.7 L96.1,326 L96,324.2 L95.9,322.4 L95.9,320.7 L96,318.9 L96.2,317 L96.4,315.2 L96.7,313.4 L97.1,311.6 L97.5,309.8 L98.1,308 L98.6,306.2 L99.3,304.5 L100,302.7 L100.8,301 L101.7,299.4 L102.6,297.8 L103.6,296.2 L104.6,294.7 L105.6,293.2 L106.8,291.9 L107.9,290.5 L109.1,289.3 L110.4,288.1 L111.7,286.9 L113,285.9 L114.3,284.9 L115.7,284 L117.1,283.2 L118.5,282.5 L119.9,281.9 L121.4,281.4 L122.8,280.9 L124.2,280.6 L125.7,280.3 L127.1,280.1 L128.5,280.1 L129.9,280.1 L131.3,280.2 L132.7,280.5 L134,280.8 L135.3,281.2 L136.6,281.7 L137.8,282.3 L139,283 L140.2,283.7 L141.3,284.6 L142.3,285.5 L143.4,286.5 L144.3,287.6 L145.2,288.8 L146,290 L146.8,291.3 L147.5,292.7 L148.2,294.1 L148.7,295.6 L149.3,297.2 L149.7,298.8 L150,300.4 L150.3,302.1 L150.6,303.8 L150.7,305.5 L150.8,307.3 L150.8,309.1 L150.7,310.9 L150.5,312.7 L150.3,314.5 L150,316.4 L149.6,318.2 L149.1,320 L148.6,321.8Z M148.1,323 L147.5,324.8 L146.7,326.5 L146,328.3 L145.1,330 L144.2,331.6 L143.2,333.2 L142.2,334.8 L141.1,336.3 L139.9,337.7 L138.7,339.1 L137.5,340.4 L136.2,341.6 L134.9,342.7 L133.6,343.8 L132.2,344.8 L130.8,345.7 L129.4,346.5 L127.9,347.3 L126.5,347.9 L125,348.5 L123.5,348.9 L122,349.3 L120.5,349.6 L119.1,349.7 L117.6,349.8 L116.1,349.8 L114.7,349.7 L113.3,349.5 L111.9,349.1 L110.5,348.7 L109.2,348.2 L107.9,347.6 L106.7,346.9 L105.5,346.1 L104.3,345.3 L103.2,344.3 L102.1,343.3 L101.1,342.2 L100.2,341 L99.3,339.7 L98.5,338.4 L97.7,337 L97,335.5 L96.4,334 L95.8,332.4 L95.4,330.8 L95,329.1 L94.6,327.4 L94.4,325.7 L94.2,323.9 L94.1,322.1 L94.1,320.3 L94.2,318.4 L94.3,316.6 L94.5,314.7 L94.8,312.8 L95.2,311 L95.6,309.1 L96.1,307.3 L96.7,305.5 L97.4,303.7 L98.1,301.9 L98.9,300.2 L99.7,298.5 L100.7,296.8 L101.6,295.2 L102.7,293.7 L103.8,292.2 L104.9,290.8 L106.1,289.4 L107.3,288.1 L108.6,286.9 L109.9,285.7 L111.3,284.6 L112.6,283.6 L114,282.7 L115.5,281.9 L116.9,281.2 L118.4,280.5 L119.9,280 L121.3,279.5 L122.8,279.1 L124.3,278.9 L125.8,278.7 L127.2,278.6 L128.7,278.7 L130.1,278.8 L131.5,279 L132.9,279.3 L134.3,279.7 L135.6,280.2 L136.9,280.8 L138.2,281.5 L139.4,282.3 L140.5,283.2 L141.7,284.1 L142.7,285.2 L143.7,286.3 L144.7,287.5 L145.6,288.7 L146.4,290.1 L147.1,291.5 L147.8,292.9 L148.4,294.4 L149,296 L149.5,297.6 L149.9,299.3 L150.2,301 L150.4,302.8 L150.6,304.6 L150.7,306.4 L150.7,308.2 L150.7,310 L150.5,311.9 L150.3,313.8 L150,315.6 L149.7,317.5 L149.2,319.3 L148.7,321.2Z M148.2,322.4 L147.6,324.2 L146.9,326.1 L146.1,327.8 L145.2,329.6 L144.3,331.3 L143.3,332.9 L142.2,334.5 L141.1,336 L140,337.5 L138.8,338.9 L137.5,340.2 L136.2,341.5 L134.9,342.7 L133.5,343.8 L132.1,344.8 L130.6,345.7 L129.2,346.6 L127.7,347.3 L126.2,348 L124.7,348.6 L123.1,349 L121.6,349.4 L120.1,349.7 L118.5,349.9 L117,350 L115.5,349.9 L114,349.8 L112.6,349.6 L111.1,349.3 L109.7,348.9 L108.3,348.4 L107,347.8 L105.7,347.1 L104.4,346.3 L103.2,345.4 L102,344.4 L100.9,343.4 L99.9,342.2 L98.9,341 L97.9,339.7 L97.1,338.4 L96.2,336.9 L95.5,335.4 L94.9,333.9 L94.3,332.3 L93.7,330.6 L93.3,328.9 L92.9,327.2 L92.7,325.4 L92.5,323.6 L92.3,321.7 L92.3,319.8 L92.3,318 L92.4,316.1 L92.6,314.2 L92.9,312.3 L93.3,310.4 L93.7,308.5 L94.2,306.6 L94.8,304.7 L95.4,302.9 L96.1,301.1 L96.9,299.3 L97.8,297.6 L98.7,295.9 L99.7,294.2 L100.8,292.7 L101.9,291.1 L103,289.7 L104.2,288.3 L105.5,286.9 L106.8,285.7 L108.1,284.5 L109.5,283.4 L110.9,282.3 L112.4,281.4 L113.8,280.6 L115.3,279.8 L116.8,279.1 L118.3,278.6 L119.9,278.1 L121.4,277.7 L122.9,277.4 L124.5,277.3 L126,277.2 L127.5,277.2 L129,277.3 L130.4,277.5 L131.9,277.8 L133.3,278.3 L134.7,278.8 L136,279.4 L137.3,280.1 L138.6,280.9 L139.8,281.8 L141,282.7 L142.1,283.8 L143.1,284.9 L144.1,286.1 L145.1,287.4 L145.9,288.8 L146.8,290.2 L147.5,291.7 L148.1,293.2 L148.7,294.9 L149.3,296.5 L149.7,298.2 L150.1,300 L150.3,301.8 L150.5,303.6 L150.7,305.4 L150.7,307.3 L150.7,309.2 L150.6,311.1 L150.4,313 L150.1,314.9 L149.7,316.8 L149.3,318.7 L148.8,320.6Z M148.3,321.8 L147.7,323.7 L147,325.6 L146.2,327.4 L145.3,329.2 L144.4,330.9 L143.4,332.6 L142.3,334.2 L141.2,335.8 L140,337.3 L138.8,338.7 L137.5,340.1 L136.2,341.4 L134.8,342.6 L133.4,343.7 L131.9,344.8 L130.5,345.7 L129,346.6 L127.4,347.4 L125.9,348.1 L124.3,348.6 L122.8,349.1 L121.2,349.5 L119.6,349.8 L118,350 L116.5,350.1 L114.9,350.1 L113.4,350 L111.8,349.8 L110.3,349.4 L108.9,349 L107.4,348.5 L106,347.9 L104.7,347.2 L103.4,346.4 L102.1,345.5 L100.9,344.5 L99.7,343.4 L98.6,342.3 L97.6,341 L96.6,339.7 L95.7,338.3 L94.8,336.9 L94,335.3 L93.3,333.8 L92.7,332.1 L92.1,330.4 L91.6,328.7 L91.3,326.9 L90.9,325.1 L90.7,323.2 L90.5,321.3 L90.5,319.4 L90.5,317.5 L90.6,315.6 L90.7,313.6 L91,311.7 L91.3,309.7 L91.8,307.8 L92.3,305.9 L92.8,304 L93.5,302.1 L94.2,300.3 L95,298.4 L95.9,296.7 L96.8,294.9 L97.8,293.3 L98.9,291.6 L100,290.1 L101.2,288.6 L102.4,287.1 L103.7,285.8 L105,284.5 L106.4,283.2 L107.8,282.1 L109.2,281.1 L110.7,280.1 L112.2,279.2 L113.7,278.4 L115.3,277.8 L116.8,277.2 L118.4,276.7 L120,276.3 L121.6,276 L123.1,275.8 L124.7,275.7 L126.3,275.7 L127.8,275.8 L129.3,276.1 L130.8,276.4 L132.3,276.8 L133.7,277.3 L135.1,277.9 L136.5,278.6 L137.8,279.4 L139.1,280.3 L140.3,281.3 L141.5,282.4 L142.6,283.6 L143.6,284.8 L144.6,286.1 L145.5,287.5 L146.4,289 L147.1,290.5 L147.9,292.1 L148.5,293.7 L149,295.4 L149.5,297.1 L149.9,298.9 L150.2,300.7 L150.5,302.6 L150.6,304.5 L150.7,306.4 L150.7,308.3 L150.6,310.3 L150.4,312.2 L150.2,314.1 L149.8,316.1 L149.4,318 L148.9,319.9Z M148.4,321.3 L147.8,323.2 L147.1,325.1 L146.3,326.9 L145.4,328.8 L144.5,330.5 L143.4,332.2 L142.4,333.9 L141.2,335.5 L140,337.1 L138.8,338.5 L137.5,339.9 L136.1,341.3 L134.7,342.5 L133.3,343.7 L131.8,344.7 L130.3,345.7 L128.7,346.6 L127.2,347.4 L125.6,348.1 L124,348.7 L122.4,349.2 L120.8,349.6 L119.1,349.9 L117.5,350.1 L115.9,350.2 L114.3,350.2 L112.7,350.1 L111.1,349.9 L109.6,349.6 L108,349.2 L106.6,348.6 L105.1,348 L103.7,347.3 L102.3,346.5 L101,345.6 L99.7,344.6 L98.5,343.5 L97.3,342.3 L96.3,341 L95.2,339.7 L94.3,338.3 L93.4,336.8 L92.5,335.3 L91.8,333.6 L91.1,332 L90.5,330.2 L90,328.5 L89.6,326.7 L89.2,324.8 L88.9,322.9 L88.8,321 L88.7,319 L88.6,317.1 L88.7,315.1 L88.9,313.1 L89.1,311.1 L89.4,309.1 L89.8,307.1 L90.3,305.2 L90.9,303.2 L91.5,301.3 L92.3,299.4 L93.1,297.6 L93.9,295.8 L94.9,294 L95.9,292.3 L97,290.6 L98.1,289 L99.3,287.5 L100.6,286 L101.9,284.6 L103.2,283.3 L104.6,282 L106.1,280.9 L107.5,279.8 L109,278.8 L110.6,277.9 L112.2,277.1 L113.7,276.4 L115.3,275.8 L117,275.3 L118.6,274.9 L120.2,274.6 L121.8,274.4 L123.4,274.3 L125,274.3 L126.6,274.4 L128.2,274.6 L129.8,274.9 L131.3,275.3 L132.8,275.9 L134.2,276.5 L135.6,277.2 L137,278 L138.3,278.9 L139.6,279.9 L140.8,281 L142,282.2 L143.1,283.5 L144.1,284.8 L145.1,286.2 L146,287.7 L146.8,289.2 L147.6,290.9 L148.2,292.5 L148.8,294.3 L149.3,296 L149.8,297.9 L150.1,299.7 L150.4,301.6 L150.6,303.5 L150.7,305.5 L150.7,307.5 L150.6,309.4 L150.5,311.4 L150.2,313.4 L149.9,315.4 L149.5,317.4 L149,319.3Z" fill="none" stroke="#777" stroke-width="0.6"/><path d="M86.8,316.1 L86.8,314.6 L86.9,313.1 L87.1,311.5 L87.3,310 L87.5,308.5 L87.8,307 L88.1,305.5 L88.5,304 L89,302.5 L89.4,301 L89.9,299.6 L90.5,298.1 L91.1,296.7 L91.8,295.3 L92.5,293.9 L93.2,292.6 L94,291.3 L94.8,290 L95.6,288.8 L96.5,287.5 L97.4,286.4 L98.4,285.2 L99.4,284.1 L100.4,283.1 L101.4,282.1 L102.5,281.1 L103.6,280.2 L104.7,279.3 L105.8,278.5 L107,277.7 L108.2,277 L109.4,276.3 L110.6,275.7 L111.8,275.2 L113,274.7 L114.3,274.2 L115.5,273.9 L116.7,273.5 L118,273.3 L119.3,273.1 L120.5,272.9 L121.8,272.8 L123,272.8 L124.2,272.8 L125.5,272.9 L126.7,273.1 L127.9,273.3 L129.1,273.6 L130.3,273.9 L131.4,274.3 L132.6,274.7 L133.7,275.2 L134.8,275.8 L135.9,276.4 L136.9,277.1 L137.9,277.8 L138.9,278.5 L139.9,279.4 L140.8,280.2 L141.7,281.2 L142.6,282.1 L143.4,283.1 L144.2,284.2 L144.9,285.3 L145.6,286.4 L146.3,287.6 L146.9,288.8 L147.4,290.1 L148,291.4 L148.5,292.7 L148.9,294 L149.3,295.4 L149.6,296.8 L149.9,298.2 L150.2,299.7 L150.4,301.1 L150.8,305.2 L150.9,306.3 L151,307.5 L151,308.7 L151,309.9 L150.9,311.1 L150.9,312.3 L150.7,313.5 L150.6,314.8 L150.4,316 L150.2,317.2 L149.9,318.5 L149.6,319.7 L149.3,321 L148.9,322.2 L148.5,323.4 L148.1,324.6 L147.6,325.8 L147.1,327 L146.6,328.2 L146,329.3 L145.4,330.5 L144.8,331.6 L144.2,332.7 L143.5,333.8 L142.8,334.8 L142.1,335.9 L141.3,336.9 L140.6,337.8 L139.8,338.8 L139,339.7 L138.1,340.5 L137.3,341.4 L136.4,342.2 L135.6,342.9 L134.7,343.6 L133.8,344.3 L132.9,344.9 L131.9,345.5 L131,346.1 L130.1,346.6 L129.1,347.1 L128.2,347.5 L127.3,347.8 L126.3,348.2 L125.4,348.4 L122,349.3 L120.8,349.7 L119.5,349.9 L118.2,350.1 L117,350.3 L115.7,350.4 L114.5,350.4 L113.3,350.4 L112,350.3 L110.8,350.1 L109.6,349.9 L108.4,349.6 L107.2,349.3 L106.1,348.9 L104.9,348.5 L103.8,348 L102.7,347.4 L101.6,346.8 L100.6,346.1 L99.6,345.4 L98.6,344.7 L97.6,343.8 L96.7,343 L95.8,342 L94.9,341.1 L94.1,340.1 L93.3,339 L92.6,337.9 L91.9,336.8 L91.2,335.6 L90.6,334.4 L90.1,333.1 L89.5,331.8 L89,330.5 L88.6,329.2 L88.2,327.8 L87.9,326.4 L87.6,325 L87.3,323.5 L87.1,322.1 L87,320.6 L86.9,319.1 L86.8,317.6Z" fill="none" stroke="#222" stroke-width="1.0"/><ellipse cx="125.8" cy="317" rx="22.5" ry="32.6" transform="rotate(22 125.8 317)" fill="none" stroke="#aaa" stroke-width="1.6"/><ellipse cx="127" cy="317.5" rx="22.2" ry="32.9" transform="rotate(22 127 317.5)" fill="#fff" stroke="#333" stroke-width="0.8"/><ellipse cx="126.8" cy="316.8" rx="15.9" ry="20.6" transform="rotate(17 126.8 316.8)" fill="#d0d0d0" stroke="#333" stroke-width="1.1"/><ellipse cx="127.1" cy="316.8" rx="13.6" ry="18.2" transform="rotate(17 127.1 316.8)" fill="#e4e0dc" stroke="#555" stroke-width="0.7"/><line x1="132" y1="321" x2="137.5" y2="325.6" stroke="#888" stroke-width="0.6"/><line x1="126.8" y1="325.1" x2="126.6" y2="334.3" stroke="#888" stroke-width="0.6"/><line x1="121.5" y1="322.9" x2="115.8" y2="329.7" stroke="#888" stroke-width="0.6"/><line x1="120.3" y1="316.1" x2="113.3" y2="315.5" stroke="#888" stroke-width="0.6"/><line x1="123.9" y1="309.9" x2="121" y2="302.2" stroke="#888" stroke-width="0.6"/><line x1="129.7" y1="308.8" x2="133" y2="299.9" stroke="#888" stroke-width="0.6"/><line x1="133.3" y1="313.8" x2="140.4" y2="310.4" stroke="#888" stroke-width="0.6"/><ellipse cx="127.2" cy="317.7" rx="6.6" ry="8.4" transform="rotate(17 127.2 317.7)" fill="#a9dcf4" stroke="#5a9cc0" stroke-width="0.6"/><ellipse cx="127.3" cy="317.8" rx="4.3" ry="5.6" transform="rotate(17 127.3 317.8)" fill="#72c4ec" stroke="#4a90b8" stroke-width="0.5"/>
<rect x="172.4" y="235.5" width="19.6" height="14.3" fill="#eef8fd" stroke="#9fd6ec" stroke-width="0.6"/><line x1="172.4" y1="242.5" x2="192" y2="242.5" stroke="#9fd6ec" stroke-width="0.6"/><text x="182.2" y="241.3" text-anchor="middle" font-family="Liberation Sans,sans-serif" font-size="6.6" fill="#5a9cc0">H 77</text><text x="182.2" y="248.6" text-anchor="middle" font-family="Liberation Sans,sans-serif" font-size="6.6" fill="#3a3a3a">C 137</text><text x="163.8" y="255.6" font-family="Liberation Sans,sans-serif" font-size="5.3" fill="#222" textLength="37.8" lengthAdjust="spacingAndGlyphs">TIRE BLACK</text>
<rect x="219.2" y="272.9" width="22.3" height="6.8" fill="#d4f0fb" stroke="#a6dcef" stroke-width="0.6"/><text x="220.2" y="278.7" font-family="Liberation Sans,sans-serif" font-size="6.4" fill="#5aa6c8" textLength="20.3" lengthAdjust="spacingAndGlyphs">MC218</text><text x="212.6" y="285.8" font-family="Liberation Sans,sans-serif" font-size="5.3" fill="#222" textLength="36.4" lengthAdjust="spacingAndGlyphs">ALUMINIUM</text>
<text class="sb" x="74.4" y="283" font-size="11" textLength="15.2" lengthAdjust="spacingAndGlyphs">R3</text>
<line x1="149.6" y1="329.9" x2="181.5" y2="348.1" stroke="#777" stroke-width="0.8"/><path d="M189.3,352.6 L180.5,349.8 L182.4,346.5 Z" fill="#111"/>
<path d="M225,379.2 L225,378.6 L225.1,378.1 L225.2,377.4 L225.3,376.8 L225.5,376.2 L225.7,375.5 L225.9,374.8 L226.2,374.2 L226.5,373.6 L226.9,372.9 L227.3,372.4 L227.6,371.8 L228,371.3 L228.5,370.8 L228.9,370.4 L229.3,370.1 L229.7,369.8 L230.1,369.5 L230.5,369.3 L230.9,369.2 L231.3,369.2 L231.6,369.2 L231.9,369.3 L240.4,373.3 L240.7,373.5 L240.9,373.8 L241.1,374.1 L241.3,374.4 L241.4,374.8 L241.5,375.3 L241.5,375.8 L241.5,376.4 L241.4,376.9 L241.3,377.6 L241.2,378.2 L241,378.8 L240.8,379.5 L240.6,380.2 L240.3,380.8 L240,381.4 L239.6,382.1 L239.2,382.6 L238.9,383.2 L238.5,383.7 L238,384.2 L237.6,384.6 L237.2,384.9 L236.8,385.2 L236.4,385.5 L236,385.7 L235.6,385.8 L235.2,385.8 L234.9,385.8 L234.6,385.7 L226.1,381.7 L225.8,381.5 L225.6,381.2 L225.4,380.9 L225.2,380.6 L225.1,380.2 L225,379.7Z" fill="#8fd0f0" stroke="#3a7fa8" stroke-width="0.6"/>
<ellipse cx="234.3" cy="378" rx="3" ry="6.8" transform="rotate(25 234.3 378)" fill="none" stroke="#3a7fa8" stroke-width="0.5"/>
<path d="M204,372.3 L204,371.7 L204.1,370.9 L204.2,370.1 L204.4,369.3 L204.6,368.4 L204.8,367.5 L205.1,366.6 L205.5,365.6 L205.8,364.7 L206.2,363.8 L206.7,362.9 L207.1,362 L207.5,361.2 L208,360.4 L208.5,359.7 L209,359 L209.4,358.5 L209.9,358 L210.3,357.6 L210.7,357.2 L211.1,357 L211.5,356.9 L211.8,356.9 L212.1,356.9 L232.6,365.3 L232.9,365.5 L233.1,365.7 L233.3,366.1 L233.4,366.5 L233.5,367.1 L233.5,367.7 L233.5,368.3 L233.4,369.1 L233.3,369.9 L233.1,370.7 L232.9,371.6 L232.7,372.5 L232.4,373.4 L232,374.4 L231.7,375.3 L231.3,376.2 L230.8,377.1 L230.4,378 L230,378.8 L229.5,379.6 L229,380.3 L228.5,381 L228.1,381.5 L227.6,382 L227.2,382.4 L226.8,382.8 L226.4,383 L226,383.1 L225.7,383.1 L225.4,383.1 L204.9,374.7 L204.6,374.5 L204.4,374.3 L204.2,373.9 L204.1,373.5 L204,372.9Z" fill="#fff" stroke="#555" stroke-width="0.6"/><ellipse cx="208.5" cy="365.8" rx="2.9" ry="9.6" transform="rotate(22.3 208.5 365.8)" fill="#fff" stroke="#555" stroke-width="0.6"/>
<ellipse cx="224.2" cy="372.4" rx="2.9" ry="9.6" transform="rotate(22.8 224.2 372.4)" fill="none" stroke="#666" stroke-width="0.5"/>
<ellipse cx="226.8" cy="373.4" rx="2.7" ry="8.8" transform="rotate(22.8 226.8 373.4)" fill="none" stroke="#777" stroke-width="0.5"/>
<path d="M199.2,363.6 L199.3,363 L199.3,362.3 L199.5,361.7 L199.7,361.1 L199.9,360.5 L200.1,359.9 L200.5,359.3 L200.8,358.8 L201.2,358.3 L201.6,357.9 L202.1,357.4 L202.5,357.1 L203,356.8 L203.5,356.6 L204,356.4 L204.5,356.3 L205,356.2 L205.5,356.2 L205.9,356.3 L206.4,356.5 L212.9,359.2 L213.3,359.4 L213.7,359.7 L214,360 L214.3,360.4 L214.6,360.8 L214.8,361.3 L215,361.8 L215.2,362.3 L215.2,362.9 L215.3,363.5 L215.2,364.1 L215.2,364.8 L215,365.4 L214.8,366 L214.6,366.6 L214.4,367.2 L214,367.8 L213.7,368.3 L213.3,368.8 L212.9,369.2 L212.4,369.7 L212,370 L211.5,370.3 L211,370.5 L210.5,370.7 L210,370.8 L209.5,370.9 L209,370.9 L208.6,370.8 L208.1,370.6 L201.6,367.9 L201.2,367.7 L200.8,367.4 L200.5,367.1 L200.2,366.7 L199.9,366.3 L199.7,365.8 L199.5,365.3 L199.3,364.8 L199.3,364.2Z" fill="#8fd0f0" stroke="#3a7fa8" stroke-width="0.6"/><ellipse cx="204" cy="362.2" rx="4.5" ry="6.2" transform="rotate(22.6 204 362.2)" fill="#86cbee" stroke="#3a7fa8" stroke-width="0.6"/>
<text class="sb" x="243.9" y="363.6" font-size="12" textLength="78.3" lengthAdjust="spacingAndGlyphs">plastic G166</text>
<line x1="290.6" y1="411.4" x2="258.8" y2="394.5" stroke="#777" stroke-width="0.8"/><path d="M250.8,390.3 L259.6,392.8 L257.9,396.2 Z" fill="#111"/>
<line x1="363" y1="360.5" x2="348" y2="404" stroke="#a4d4e8" stroke-width="0.85"/>
<line x1="233.3" y1="468" x2="296" y2="446" stroke="#a4d4e8" stroke-width="0.85"/>
<path d="M293.8,437.1 L293.8,435.6 L293.9,434.1 L294.1,432.5 L294.3,431 L294.5,429.5 L294.8,428 L295.1,426.5 L295.5,425 L296,423.5 L296.4,422 L296.9,420.6 L297.5,419.1 L298.1,417.7 L298.8,416.3 L299.5,414.9 L300.2,413.6 L301,412.3 L301.8,411 L302.6,409.8 L303.5,408.5 L304.4,407.4 L305.4,406.2 L306.4,405.1 L307.4,404.1 L308.4,403.1 L309.5,402.1 L310.6,401.2 L311.7,400.3 L312.8,399.5 L314,398.7 L315.2,398 L316.4,397.3 L317.6,396.7 L318.8,396.2 L320,395.7 L321.3,395.2 L322.5,394.9 L323.7,394.5 L325,394.3 L326.3,394.1 L327.5,393.9 L328.8,393.8 L330,393.8 L331.2,393.8 L332.5,393.9 L333.7,394.1 L334.9,394.3 L336.1,394.6 L337.3,394.9 L338.4,395.3 L339.6,395.7 L340.7,396.2 L341.8,396.8 L342.9,397.4 L343.9,398.1 L344.9,398.8 L345.9,399.5 L346.9,400.4 L347.8,401.2 L348.7,402.2 L349.6,403.1 L350.4,404.1 L351.2,405.2 L351.9,406.3 L352.6,407.4 L353.3,408.6 L353.9,409.8 L354.4,411.1 L355,412.4 L355.5,413.7 L355.9,415 L356.3,416.4 L356.6,417.8 L356.9,419.2 L357.2,420.7 L357.4,422.1 L357.8,426.2 L357.9,427.3 L358,428.5 L358,429.7 L358,430.9 L357.9,432.1 L357.9,433.3 L357.7,434.5 L357.6,435.8 L357.4,437 L357.2,438.2 L356.9,439.5 L356.6,440.7 L356.3,442 L355.9,443.2 L355.5,444.4 L355.1,445.6 L354.6,446.8 L354.1,448 L353.6,449.2 L353,450.3 L352.4,451.5 L351.8,452.6 L351.2,453.7 L350.5,454.8 L349.8,455.8 L349.1,456.9 L348.3,457.9 L347.6,458.8 L346.8,459.8 L346,460.7 L345.1,461.5 L344.3,462.4 L343.4,463.2 L342.6,463.9 L341.7,464.6 L340.8,465.3 L339.9,465.9 L338.9,466.5 L338,467.1 L337.1,467.6 L336.1,468.1 L335.2,468.5 L334.3,468.8 L333.3,469.2 L332.4,469.4 L329,470.3 L327.8,470.7 L326.5,470.9 L325.2,471.1 L324,471.3 L322.7,471.4 L321.5,471.4 L320.3,471.4 L319,471.3 L317.8,471.1 L316.6,470.9 L315.4,470.6 L314.2,470.3 L313.1,469.9 L311.9,469.5 L310.8,469 L309.7,468.4 L308.6,467.8 L307.6,467.1 L306.6,466.4 L305.6,465.7 L304.6,464.8 L303.7,464 L302.8,463 L301.9,462.1 L301.1,461.1 L300.3,460 L299.6,458.9 L298.9,457.8 L298.2,456.6 L297.6,455.4 L297.1,454.1 L296.5,452.8 L296,451.5 L295.6,450.2 L295.2,448.8 L294.9,447.4 L294.6,446 L294.3,444.5 L294.1,443.1 L294,441.6 L293.9,440.1 L293.8,438.6Z" fill="#ececec" stroke="#222" stroke-width="1.0"/><path d="M354.7,446.3 L354,447.9 L353.3,449.5 L352.5,451 L351.7,452.6 L350.8,454.1 L349.9,455.5 L348.9,456.9 L347.9,458.3 L346.8,459.5 L345.7,460.8 L344.6,461.9 L343.4,463 L342.2,464.1 L341,465 L339.7,465.9 L338.5,466.7 L337.2,467.5 L335.9,468.1 L334.6,468.7 L333.3,469.1 L332,469.5 L330.7,469.8 L329.4,470.1 L328.1,470.2 L326.9,470.2 L325.6,470.2 L324.4,470.1 L323.2,469.8 L322,469.5 L320.9,469.1 L319.7,468.6 L318.7,468.1 L317.6,467.4 L316.6,466.7 L315.7,465.9 L314.8,465 L313.9,464 L313.1,463 L312.4,461.9 L311.7,460.7 L311.1,459.5 L310.5,458.2 L310,456.9 L309.5,455.5 L309.1,454 L308.8,452.5 L308.6,451 L308.4,449.4 L308.3,447.8 L308.2,446.2 L308.3,444.6 L308.4,442.9 L308.5,441.2 L308.7,439.5 L309,437.8 L309.4,436.1 L309.8,434.4 L310.3,432.8 L310.9,431.1 L311.5,429.4 L312.1,427.8 L312.9,426.2 L313.6,424.6 L314.5,423.1 L315.4,421.6 L316.3,420.2 L317.3,418.8 L318.3,417.4 L319.4,416.1 L320.5,414.9 L321.6,413.8 L322.8,412.7 L324,411.6 L325.2,410.7 L326.4,409.8 L327.7,409 L329,408.2 L330.3,407.6 L331.6,407 L332.9,406.5 L334.2,406.1 L335.5,405.8 L336.8,405.6 L338,405.5 L339.3,405.4 L340.6,405.5 L341.8,405.6 L343,405.8 L344.2,406.2 L345.3,406.6 L346.4,407 L347.5,407.6 L348.5,408.3 L349.5,409 L350.5,409.8 L351.4,410.7 L352.2,411.6 L353,412.7 L353.8,413.8 L354.5,415 L355.1,416.2 L355.7,417.5 L356.2,418.8 L356.6,420.2 L357,421.7 L357.3,423.2 L357.6,424.7 L357.8,426.3 L357.9,427.9 L357.9,429.5 L357.9,431.1 L357.8,432.8 L357.7,434.5 L357.4,436.2 L357.1,437.9 L356.8,439.6 L356.4,441.3 L355.9,442.9 L355.3,444.6Z M354.8,445.7 L354.1,447.4 L353.4,449 L352.6,450.6 L351.8,452.2 L350.9,453.7 L349.9,455.2 L349,456.6 L347.9,458 L346.8,459.3 L345.7,460.6 L344.5,461.8 L343.3,462.9 L342.1,464 L340.9,465 L339.6,465.9 L338.3,466.7 L337,467.5 L335.7,468.1 L334.3,468.7 L333,469.2 L331.6,469.6 L330.3,470 L328.9,470.2 L327.6,470.3 L326.3,470.4 L325,470.3 L323.7,470.2 L322.5,470 L321.2,469.7 L320,469.3 L318.9,468.8 L317.7,468.2 L316.6,467.6 L315.6,466.8 L314.6,466 L313.6,465.1 L312.7,464.1 L311.9,463 L311.1,461.9 L310.3,460.7 L309.7,459.5 L309,458.2 L308.5,456.8 L308,455.4 L307.6,453.9 L307.2,452.3 L306.9,450.8 L306.7,449.2 L306.6,447.5 L306.5,445.9 L306.5,444.2 L306.5,442.5 L306.7,440.8 L306.9,439 L307.2,437.3 L307.5,435.5 L307.9,433.8 L308.4,432.1 L308.9,430.4 L309.5,428.7 L310.2,427 L310.9,425.4 L311.7,423.8 L312.5,422.2 L313.4,420.7 L314.4,419.2 L315.4,417.8 L316.4,416.4 L317.5,415 L318.6,413.8 L319.8,412.6 L321,411.5 L322.2,410.4 L323.5,409.4 L324.7,408.5 L326,407.7 L327.4,406.9 L328.7,406.2 L330,405.6 L331.4,405.1 L332.7,404.7 L334,404.4 L335.4,404.2 L336.7,404 L338,404 L339.3,404 L340.6,404.2 L341.9,404.4 L343.1,404.7 L344.3,405.1 L345.5,405.6 L346.6,406.2 L347.7,406.8 L348.8,407.6 L349.8,408.4 L350.7,409.3 L351.6,410.3 L352.5,411.3 L353.3,412.5 L354,413.6 L354.7,414.9 L355.3,416.2 L355.9,417.6 L356.3,419 L356.8,420.5 L357.1,422 L357.4,423.6 L357.6,425.2 L357.8,426.8 L357.8,428.5 L357.9,430.2 L357.8,431.9 L357.7,433.6 L357.5,435.4 L357.2,437.1 L356.8,438.8 L356.4,440.6 L356,442.3 L355.4,444Z M354.9,445.1 L354.3,446.8 L353.5,448.5 L352.7,450.2 L351.9,451.8 L351,453.3 L350,454.9 L349,456.3 L348,457.8 L346.9,459.1 L345.7,460.4 L344.5,461.6 L343.3,462.8 L342.1,463.9 L340.8,464.9 L339.5,465.9 L338.1,466.7 L336.8,467.5 L335.4,468.2 L334,468.8 L332.6,469.3 L331.3,469.7 L329.9,470.1 L328.5,470.3 L327.1,470.5 L325.7,470.5 L324.4,470.5 L323,470.4 L321.7,470.1 L320.5,469.8 L319.2,469.4 L318,468.9 L316.8,468.4 L315.6,467.7 L314.5,466.9 L313.5,466.1 L312.5,465.2 L311.5,464.2 L310.6,463.1 L309.8,461.9 L309,460.7 L308.3,459.4 L307.6,458.1 L307,456.7 L306.5,455.2 L306,453.7 L305.6,452.2 L305.3,450.6 L305,448.9 L304.8,447.2 L304.7,445.5 L304.7,443.8 L304.7,442.1 L304.8,440.3 L305,438.5 L305.3,436.8 L305.6,435 L306,433.2 L306.5,431.4 L307,429.7 L307.6,427.9 L308.2,426.2 L309,424.6 L309.8,422.9 L310.6,421.3 L311.5,419.7 L312.5,418.2 L313.5,416.7 L314.5,415.3 L315.6,414 L316.8,412.7 L318,411.4 L319.2,410.3 L320.4,409.2 L321.7,408.1 L323,407.2 L324.4,406.3 L325.7,405.6 L327.1,404.9 L328.5,404.3 L329.9,403.8 L331.2,403.3 L332.6,403 L334,402.7 L335.4,402.6 L336.8,402.5 L338.1,402.6 L339.5,402.7 L340.8,402.9 L342,403.2 L343.3,403.6 L344.5,404.1 L345.7,404.7 L346.9,405.4 L348,406.1 L349,407 L350,407.9 L351,408.9 L351.9,410 L352.7,411.1 L353.5,412.3 L354.2,413.6 L354.9,415 L355.5,416.4 L356,417.8 L356.5,419.3 L356.9,420.9 L357.2,422.5 L357.5,424.1 L357.7,425.8 L357.8,427.5 L357.8,429.2 L357.8,431 L357.7,432.8 L357.5,434.5 L357.2,436.3 L356.9,438.1 L356.5,439.9 L356,441.6 L355.5,443.4Z M355,444.6 L354.4,446.3 L353.6,448 L352.8,449.7 L352,451.4 L351.1,453 L350.1,454.5 L349.1,456.1 L348,457.5 L346.9,458.9 L345.7,460.2 L344.5,461.5 L343.3,462.7 L342,463.8 L340.7,464.9 L339.3,465.8 L338,466.7 L336.6,467.5 L335.2,468.2 L333.7,468.9 L332.3,469.4 L330.9,469.8 L329.4,470.2 L328,470.4 L326.6,470.6 L325.2,470.7 L323.8,470.6 L322.4,470.5 L321,470.3 L319.7,470 L318.4,469.6 L317.1,469.1 L315.9,468.5 L314.7,467.8 L313.5,467 L312.4,466.2 L311.3,465.2 L310.3,464.2 L309.4,463.1 L308.5,462 L307.6,460.7 L306.9,459.4 L306.1,458 L305.5,456.6 L304.9,455.1 L304.4,453.6 L304,452 L303.6,450.3 L303.3,448.7 L303.1,447 L303,445.2 L302.9,443.4 L302.9,441.7 L303,439.9 L303.2,438 L303.4,436.2 L303.7,434.4 L304.1,432.6 L304.5,430.8 L305.1,429 L305.6,427.2 L306.3,425.5 L307,423.7 L307.8,422 L308.7,420.4 L309.6,418.8 L310.6,417.2 L311.6,415.7 L312.6,414.2 L313.8,412.9 L314.9,411.5 L316.1,410.3 L317.4,409.1 L318.7,407.9 L320,406.9 L321.3,405.9 L322.7,405 L324.1,404.2 L325.5,403.5 L326.9,402.9 L328.4,402.4 L329.8,401.9 L331.2,401.6 L332.7,401.3 L334.1,401.1 L335.5,401.1 L336.9,401.1 L338.3,401.2 L339.7,401.5 L341,401.8 L342.3,402.2 L343.6,402.7 L344.8,403.3 L346,404 L347.2,404.7 L348.3,405.6 L349.3,406.5 L350.4,407.5 L351.3,408.6 L352.2,409.8 L353,411 L353.8,412.3 L354.5,413.7 L355.2,415.1 L355.7,416.6 L356.3,418.2 L356.7,419.8 L357,421.4 L357.3,423.1 L357.6,424.8 L357.7,426.5 L357.8,428.3 L357.8,430.1 L357.7,431.9 L357.5,433.7 L357.3,435.5 L357,437.4 L356.6,439.2 L356.1,441 L355.6,442.8Z M355.1,444 L354.5,445.8 L353.7,447.5 L353,449.3 L352.1,451 L351.2,452.6 L350.2,454.2 L349.2,455.8 L348.1,457.3 L346.9,458.7 L345.7,460.1 L344.5,461.4 L343.2,462.6 L341.9,463.7 L340.6,464.8 L339.2,465.8 L337.8,466.7 L336.4,467.5 L334.9,468.3 L333.5,468.9 L332,469.5 L330.5,469.9 L329,470.3 L327.5,470.6 L326.1,470.7 L324.6,470.8 L323.1,470.8 L321.7,470.7 L320.3,470.5 L318.9,470.1 L317.5,469.7 L316.2,469.2 L314.9,468.6 L313.7,467.9 L312.5,467.1 L311.3,466.3 L310.2,465.3 L309.1,464.3 L308.1,463.2 L307.2,462 L306.3,460.7 L305.5,459.4 L304.7,458 L304,456.5 L303.4,455 L302.8,453.4 L302.4,451.8 L302,450.1 L301.6,448.4 L301.4,446.7 L301.2,444.9 L301.1,443.1 L301.1,441.3 L301.2,439.4 L301.3,437.6 L301.5,435.7 L301.8,433.8 L302.2,432 L302.6,430.1 L303.1,428.3 L303.7,426.5 L304.4,424.7 L305.1,422.9 L305.9,421.2 L306.7,419.5 L307.7,417.8 L308.6,416.2 L309.7,414.7 L310.8,413.2 L311.9,411.8 L313.1,410.4 L314.3,409.1 L315.6,407.9 L316.9,406.7 L318.3,405.6 L319.6,404.6 L321,403.7 L322.5,402.9 L323.9,402.2 L325.4,401.5 L326.9,401 L328.3,400.5 L329.8,400.1 L331.3,399.9 L332.8,399.7 L334.2,399.6 L335.7,399.7 L337.1,399.8 L338.5,400 L339.9,400.3 L341.3,400.7 L342.6,401.2 L343.9,401.8 L345.2,402.5 L346.4,403.3 L347.5,404.2 L348.7,405.1 L349.7,406.2 L350.7,407.3 L351.7,408.5 L352.6,409.7 L353.4,411.1 L354.1,412.5 L354.8,413.9 L355.4,415.4 L356,417 L356.5,418.6 L356.9,420.3 L357.2,422 L357.4,423.8 L357.6,425.6 L357.7,427.4 L357.7,429.2 L357.7,431 L357.5,432.9 L357.3,434.8 L357,436.6 L356.7,438.5 L356.2,440.3 L355.7,442.2Z M355.2,443.4 L354.6,445.2 L353.9,447.1 L353.1,448.8 L352.2,450.6 L351.3,452.3 L350.3,453.9 L349.2,455.5 L348.1,457 L347,458.5 L345.8,459.9 L344.5,461.2 L343.2,462.5 L341.9,463.7 L340.5,464.8 L339.1,465.8 L337.6,466.7 L336.2,467.6 L334.7,468.3 L333.2,469 L331.7,469.6 L330.1,470 L328.6,470.4 L327.1,470.7 L325.5,470.9 L324,471 L322.5,470.9 L321,470.8 L319.6,470.6 L318.1,470.3 L316.7,469.9 L315.3,469.4 L314,468.8 L312.7,468.1 L311.4,467.3 L310.2,466.4 L309,465.4 L307.9,464.4 L306.9,463.2 L305.9,462 L304.9,460.7 L304.1,459.4 L303.2,457.9 L302.5,456.4 L301.9,454.9 L301.3,453.3 L300.7,451.6 L300.3,449.9 L299.9,448.2 L299.7,446.4 L299.5,444.6 L299.3,442.7 L299.3,440.8 L299.3,439 L299.4,437.1 L299.6,435.2 L299.9,433.3 L300.3,431.4 L300.7,429.5 L301.2,427.6 L301.8,425.7 L302.4,423.9 L303.1,422.1 L303.9,420.3 L304.8,418.6 L305.7,416.9 L306.7,415.2 L307.8,413.7 L308.9,412.1 L310,410.7 L311.2,409.3 L312.5,407.9 L313.8,406.7 L315.1,405.5 L316.5,404.4 L317.9,403.3 L319.4,402.4 L320.8,401.6 L322.3,400.8 L323.8,400.1 L325.3,399.6 L326.9,399.1 L328.4,398.7 L329.9,398.4 L331.5,398.3 L333,398.2 L334.5,398.2 L336,398.3 L337.4,398.5 L338.9,398.8 L340.3,399.3 L341.7,399.8 L343,400.4 L344.3,401.1 L345.6,401.9 L346.8,402.8 L348,403.7 L349.1,404.8 L350.1,405.9 L351.1,407.1 L352.1,408.4 L352.9,409.8 L353.8,411.2 L354.5,412.7 L355.1,414.2 L355.7,415.9 L356.3,417.5 L356.7,419.2 L357.1,421 L357.3,422.8 L357.5,424.6 L357.7,426.4 L357.7,428.3 L357.7,430.2 L357.6,432.1 L357.4,434 L357.1,435.9 L356.7,437.8 L356.3,439.7 L355.8,441.6Z M355.3,442.8 L354.7,444.7 L354,446.6 L353.2,448.4 L352.3,450.2 L351.4,451.9 L350.4,453.6 L349.3,455.2 L348.2,456.8 L347,458.3 L345.8,459.7 L344.5,461.1 L343.2,462.4 L341.8,463.6 L340.4,464.7 L338.9,465.8 L337.5,466.7 L336,467.6 L334.4,468.4 L332.9,469.1 L331.3,469.6 L329.8,470.1 L328.2,470.5 L326.6,470.8 L325,471 L323.5,471.1 L321.9,471.1 L320.4,471 L318.8,470.8 L317.3,470.4 L315.9,470 L314.4,469.5 L313,468.9 L311.7,468.2 L310.4,467.4 L309.1,466.5 L307.9,465.5 L306.7,464.4 L305.6,463.3 L304.6,462 L303.6,460.7 L302.7,459.3 L301.8,457.9 L301,456.3 L300.3,454.8 L299.7,453.1 L299.1,451.4 L298.6,449.7 L298.3,447.9 L297.9,446.1 L297.7,444.2 L297.5,442.3 L297.5,440.4 L297.5,438.5 L297.6,436.6 L297.7,434.6 L298,432.7 L298.3,430.7 L298.8,428.8 L299.3,426.9 L299.8,425 L300.5,423.1 L301.2,421.3 L302,419.4 L302.9,417.7 L303.8,415.9 L304.8,414.3 L305.9,412.6 L307,411.1 L308.2,409.6 L309.4,408.1 L310.7,406.8 L312,405.5 L313.4,404.2 L314.8,403.1 L316.2,402.1 L317.7,401.1 L319.2,400.2 L320.7,399.4 L322.3,398.8 L323.8,398.2 L325.4,397.7 L327,397.3 L328.6,397 L330.1,396.8 L331.7,396.7 L333.3,396.7 L334.8,396.8 L336.3,397.1 L337.8,397.4 L339.3,397.8 L340.7,398.3 L342.1,398.9 L343.5,399.6 L344.8,400.4 L346.1,401.3 L347.3,402.3 L348.5,403.4 L349.6,404.6 L350.6,405.8 L351.6,407.1 L352.5,408.5 L353.4,410 L354.1,411.5 L354.9,413.1 L355.5,414.7 L356,416.4 L356.5,418.1 L356.9,419.9 L357.2,421.7 L357.5,423.6 L357.6,425.5 L357.7,427.4 L357.7,429.3 L357.6,431.3 L357.4,433.2 L357.2,435.1 L356.8,437.1 L356.4,439 L355.9,440.9Z M355.4,442.3 L354.8,444.2 L354.1,446.1 L353.3,447.9 L352.4,449.8 L351.5,451.5 L350.4,453.2 L349.4,454.9 L348.2,456.5 L347,458.1 L345.8,459.5 L344.5,460.9 L343.1,462.3 L341.7,463.5 L340.3,464.7 L338.8,465.7 L337.3,466.7 L335.7,467.6 L334.2,468.4 L332.6,469.1 L331,469.7 L329.4,470.2 L327.8,470.6 L326.1,470.9 L324.5,471.1 L322.9,471.2 L321.3,471.2 L319.7,471.1 L318.1,470.9 L316.6,470.6 L315,470.2 L313.6,469.6 L312.1,469 L310.7,468.3 L309.3,467.5 L308,466.6 L306.7,465.6 L305.5,464.5 L304.3,463.3 L303.3,462 L302.2,460.7 L301.3,459.3 L300.4,457.8 L299.5,456.3 L298.8,454.6 L298.1,453 L297.5,451.2 L297,449.5 L296.6,447.7 L296.2,445.8 L295.9,443.9 L295.8,442 L295.7,440 L295.6,438.1 L295.7,436.1 L295.9,434.1 L296.1,432.1 L296.4,430.1 L296.8,428.1 L297.3,426.2 L297.9,424.2 L298.5,422.3 L299.3,420.4 L300.1,418.6 L300.9,416.8 L301.9,415 L302.9,413.3 L304,411.6 L305.1,410 L306.3,408.5 L307.6,407 L308.9,405.6 L310.2,404.3 L311.6,403 L313.1,401.9 L314.5,400.8 L316,399.8 L317.6,398.9 L319.2,398.1 L320.7,397.4 L322.3,396.8 L324,396.3 L325.6,395.9 L327.2,395.6 L328.8,395.4 L330.4,395.3 L332,395.3 L333.6,395.4 L335.2,395.6 L336.8,395.9 L338.3,396.3 L339.8,396.9 L341.2,397.5 L342.6,398.2 L344,399 L345.3,399.9 L346.6,400.9 L347.8,402 L349,403.2 L350.1,404.5 L351.1,405.8 L352.1,407.2 L353,408.7 L353.8,410.2 L354.6,411.9 L355.2,413.5 L355.8,415.3 L356.3,417 L356.8,418.9 L357.1,420.7 L357.4,422.6 L357.6,424.5 L357.7,426.5 L357.7,428.5 L357.6,430.4 L357.5,432.4 L357.2,434.4 L356.9,436.4 L356.5,438.4 L356,440.3Z" fill="none" stroke="#777" stroke-width="0.6"/><path d="M293.8,437.1 L293.8,435.6 L293.9,434.1 L294.1,432.5 L294.3,431 L294.5,429.5 L294.8,428 L295.1,426.5 L295.5,425 L296,423.5 L296.4,422 L296.9,420.6 L297.5,419.1 L298.1,417.7 L298.8,416.3 L299.5,414.9 L300.2,413.6 L301,412.3 L301.8,411 L302.6,409.8 L303.5,408.5 L304.4,407.4 L305.4,406.2 L306.4,405.1 L307.4,404.1 L308.4,403.1 L309.5,402.1 L310.6,401.2 L311.7,400.3 L312.8,399.5 L314,398.7 L315.2,398 L316.4,397.3 L317.6,396.7 L318.8,396.2 L320,395.7 L321.3,395.2 L322.5,394.9 L323.7,394.5 L325,394.3 L326.3,394.1 L327.5,393.9 L328.8,393.8 L330,393.8 L331.2,393.8 L332.5,393.9 L333.7,394.1 L334.9,394.3 L336.1,394.6 L337.3,394.9 L338.4,395.3 L339.6,395.7 L340.7,396.2 L341.8,396.8 L342.9,397.4 L343.9,398.1 L344.9,398.8 L345.9,399.5 L346.9,400.4 L347.8,401.2 L348.7,402.2 L349.6,403.1 L350.4,404.1 L351.2,405.2 L351.9,406.3 L352.6,407.4 L353.3,408.6 L353.9,409.8 L354.4,411.1 L355,412.4 L355.5,413.7 L355.9,415 L356.3,416.4 L356.6,417.8 L356.9,419.2 L357.2,420.7 L357.4,422.1 L357.8,426.2 L357.9,427.3 L358,428.5 L358,429.7 L358,430.9 L357.9,432.1 L357.9,433.3 L357.7,434.5 L357.6,435.8 L357.4,437 L357.2,438.2 L356.9,439.5 L356.6,440.7 L356.3,442 L355.9,443.2 L355.5,444.4 L355.1,445.6 L354.6,446.8 L354.1,448 L353.6,449.2 L353,450.3 L352.4,451.5 L351.8,452.6 L351.2,453.7 L350.5,454.8 L349.8,455.8 L349.1,456.9 L348.3,457.9 L347.6,458.8 L346.8,459.8 L346,460.7 L345.1,461.5 L344.3,462.4 L343.4,463.2 L342.6,463.9 L341.7,464.6 L340.8,465.3 L339.9,465.9 L338.9,466.5 L338,467.1 L337.1,467.6 L336.1,468.1 L335.2,468.5 L334.3,468.8 L333.3,469.2 L332.4,469.4 L329,470.3 L327.8,470.7 L326.5,470.9 L325.2,471.1 L324,471.3 L322.7,471.4 L321.5,471.4 L320.3,471.4 L319,471.3 L317.8,471.1 L316.6,470.9 L315.4,470.6 L314.2,470.3 L313.1,469.9 L311.9,469.5 L310.8,469 L309.7,468.4 L308.6,467.8 L307.6,467.1 L306.6,466.4 L305.6,465.7 L304.6,464.8 L303.7,464 L302.8,463 L301.9,462.1 L301.1,461.1 L300.3,460 L299.6,458.9 L298.9,457.8 L298.2,456.6 L297.6,455.4 L297.1,454.1 L296.5,452.8 L296,451.5 L295.6,450.2 L295.2,448.8 L294.9,447.4 L294.6,446 L294.3,444.5 L294.1,443.1 L294,441.6 L293.9,440.1 L293.8,438.6Z" fill="none" stroke="#222" stroke-width="1.0"/><ellipse cx="332.8" cy="438" rx="22.5" ry="32.6" transform="rotate(22 332.8 438)" fill="none" stroke="#aaa" stroke-width="1.6"/><ellipse cx="334" cy="438.5" rx="22.2" ry="32.9" transform="rotate(22 334 438.5)" fill="#fff" stroke="#333" stroke-width="0.8"/><ellipse cx="332.6" cy="436.8" rx="14.8" ry="20.8" transform="rotate(21 332.6 436.8)" fill="#cfcfcf" stroke="#333" stroke-width="0.9"/><ellipse cx="332.6" cy="436.8" rx="13" ry="18.8" transform="rotate(21 332.6 436.8)" fill="#c4c4c4" stroke="#555" stroke-width="0.5"/><line x1="335.6" y1="441.3" x2="340" y2="449.3" stroke="#f4f4f4" stroke-width="1.6"/><line x1="328.3" y1="441.3" x2="320.9" y2="450" stroke="#f4f4f4" stroke-width="1.6"/><line x1="329.6" y1="432.3" x2="325.2" y2="424.3" stroke="#f4f4f4" stroke-width="1.6"/><line x1="336.9" y1="432.3" x2="344.3" y2="423.6" stroke="#f4f4f4" stroke-width="1.6"/><ellipse cx="330.6" cy="436.8" rx="6.5" ry="8.5" transform="rotate(21 330.6 436.8)" fill="#d8d8d8" stroke="#444" stroke-width="0.7"/><ellipse cx="331.6" cy="436.8" rx="3.6" ry="4.8" transform="rotate(21 331.6 436.8)" fill="#eee" stroke="#444" stroke-width="0.6"/>
<rect x="352.4" y="340.5" width="21.1" height="13" fill="#eef8fd" stroke="#9fd6ec" stroke-width="0.6"/><line x1="352.4" y1="346.8" x2="373.5" y2="346.8" stroke="#9fd6ec" stroke-width="0.6"/><text x="362.9" y="345.6" text-anchor="middle" font-family="Liberation Sans,sans-serif" font-size="6.6" fill="#5a9cc0">H 77</text><text x="362.9" y="352.3" text-anchor="middle" font-family="Liberation Sans,sans-serif" font-size="6.6" fill="#3a3a3a">C 137</text><text x="344" y="359.5" font-family="Liberation Sans,sans-serif" font-size="5.3" fill="#222" textLength="38.5" lengthAdjust="spacingAndGlyphs">TIRE BLACK</text>
<rect x="222.8" y="469.2" width="22.6" height="6.6" fill="#d4f0fb" stroke="#a6dcef" stroke-width="0.6"/><text x="223.8" y="474.8" font-family="Liberation Sans,sans-serif" font-size="6.4" fill="#5aa6c8" textLength="20.6" lengthAdjust="spacingAndGlyphs">MC218</text><text x="215" y="483" font-family="Liberation Sans,sans-serif" font-size="5.3" fill="#222" textLength="38" lengthAdjust="spacingAndGlyphs">ALUMINIUM</text>
<text class="sb" x="366" y="430.4" font-size="11" textLength="16.5" lengthAdjust="spacingAndGlyphs">R3</text>
<path d="M590.2,119.6 Q588.5,134 590,150 M599.7,125 Q597.5,137 597.5,150 M612.5,123.6 Q608,134 606,143" fill="none" stroke="#666" stroke-width="0.6"/>
<path d="M650.8,156 Q650,172 651.5,187 M661,162.6 Q658.5,174 658.5,187 M672.3,161 Q668,174 666,186" fill="none" stroke="#666" stroke-width="0.6"/>
<path d="M634,176 L651,214 L656,211 L639,173 Z" fill="#fff" stroke="#555" stroke-width="0.6"/>
<path d="M618,166 L600,183 L604,189 L623,172 Z" fill="#fff" stroke="#555" stroke-width="0.6"/>
<path d="M600.5,140.5 L649,167.5 L646,176.5 L597.5,149.5 Z" fill="#fff" stroke="#555" stroke-width="0.6"/>
<ellipse cx="647.5" cy="172" rx="2.6" ry="4.8" transform="rotate(29 647.5 172)" fill="#fff" stroke="#555" stroke-width="0.6"/>
<path d="M618.5,151 L630,157.5 L627,167 L615.5,160.5 Z" fill="#fff" stroke="#555" stroke-width="0.6"/>
<path d="M619,161 Q622,170 628,173 L633,170 Q628,167 627,163 Z" fill="#fff" stroke="#555" stroke-width="0.6"/>
<path d="M589.7,153.5 L607.8,153.5 L607.8,160.5 Q598.8,163.7 589.7,160.5 Z" fill="#fff" stroke="#555" stroke-width="0.6"/><line x1="605.6" y1="154.3" x2="605.6" y2="161.8" stroke="#c4c4c4" stroke-width="1.2"/>
<path d="M588.7,160.5 L609.3,160.5 L609.3,166 Q599,169.2 588.7,166 Z" fill="#fff" stroke="#555" stroke-width="0.6"/><line x1="607.1" y1="161.3" x2="607.1" y2="167.3" stroke="#c4c4c4" stroke-width="1.2"/>
<path d="M590.2,166 L607.3,166 L607.3,186 Q598.8,189.2 590.2,186 Z" fill="#fff" stroke="#555" stroke-width="0.6"/><line x1="605.1" y1="166.8" x2="605.1" y2="187.3" stroke="#c4c4c4" stroke-width="1.2"/>
<path d="M588.7,186 L609.8,186 L609.8,194.5 Q599.2,198.5 588.7,194.5 Z" fill="#fff" stroke="#555" stroke-width="0.6"/><line x1="607.6" y1="186.8" x2="607.6" y2="196.1" stroke="#c4c4c4" stroke-width="1.2"/>
<path d="M591.7,194.5 L608.3,194.5 L608.3,214 Q600,217.2 591.7,214 Z" fill="#fff" stroke="#555" stroke-width="0.6"/><line x1="606.1" y1="195.3" x2="606.1" y2="215.3" stroke="#c4c4c4" stroke-width="1.2"/>
<path d="M591.2,214 L610.8,214 L610.8,221.5 Q601,225.1 591.2,221.5 Z" fill="#fff" stroke="#555" stroke-width="0.6"/><line x1="608.6" y1="214.8" x2="608.6" y2="222.9" stroke="#c4c4c4" stroke-width="1.2"/>
<path d="M593.2,221.5 L609.3,221.5 L609.3,236 Q601.2,239.2 593.2,236 Z" fill="#fff" stroke="#555" stroke-width="0.6"/><line x1="607.1" y1="222.3" x2="607.1" y2="237.3" stroke="#c4c4c4" stroke-width="1.2"/>
<path d="M609,212 Q615,213 614,218 Q612,223 609,224 Z" fill="#fff" stroke="#555" stroke-width="0.6"/>
<path d="M594,236 L609,236 L610,248 Q605,252 598,250 Q592,247 594,236 Z" fill="#fff" stroke="#555" stroke-width="0.6"/>
<path d="M589.6,143 L589.6,150 M595,146 L595,153" stroke="#111" stroke-width="1.1"/>
<path d="M606.1,244.2 L606.1,243.8 L606.1,243.3 L606.2,242.8 L606.4,242.3 L606.5,241.8 L606.7,241.3 L606.9,240.8 L607.2,240.3 L607.4,239.8 L607.7,239.4 L608,239 L608.4,238.6 L608.7,238.2 L609.1,237.9 L609.4,237.7 L609.8,237.5 L610.1,237.3 L610.5,237.2 L610.8,237.2 L611.1,237.1 L611.4,237.2 L611.7,237.3 L621.2,241.8 L621.5,242 L621.7,242.2 L621.9,242.4 L622.1,242.7 L622.2,243 L622.3,243.4 L622.4,243.8 L622.4,244.3 L622.4,244.7 L622.4,245.2 L622.3,245.7 L622.1,246.2 L622,246.7 L621.8,247.2 L621.6,247.7 L621.3,248.2 L621.1,248.7 L620.8,249.1 L620.5,249.5 L620.1,249.9 L619.8,250.3 L619.4,250.6 L619.1,250.8 L618.7,251 L618.4,251.2 L618,251.3 L617.7,251.3 L617.4,251.4 L617.1,251.3 L616.8,251.2 L607.3,246.7 L607,246.5 L606.8,246.3 L606.6,246.1 L606.4,245.8 L606.3,245.5 L606.2,245.1 L606.1,244.7Z" fill="#8fd0f0" stroke="#4a8fb8" stroke-width="0.6"/><ellipse cx="619" cy="246.5" rx="2.9" ry="5.2" transform="rotate(25.3 619 246.5)" fill="#9ad6f4" stroke="#4a8fb8" stroke-width="0.6"/>
<path d="M651.7,187 L668.8,187 L668.8,194 Q660.2,197.2 651.7,194 Z" fill="#fff" stroke="#555" stroke-width="0.6"/><line x1="666.6" y1="187.8" x2="666.6" y2="195.3" stroke="#c4c4c4" stroke-width="1.2"/>
<path d="M650.7,194 L670.3,194 L670.3,201 Q660.5,204.2 650.7,201 Z" fill="#fff" stroke="#555" stroke-width="0.6"/><line x1="668.1" y1="194.8" x2="668.1" y2="202.3" stroke="#c4c4c4" stroke-width="1.2"/>
<path d="M652.2,201 L668.8,201 L668.8,217.5 Q660.5,220.7 652.2,217.5 Z" fill="#fff" stroke="#555" stroke-width="0.6"/><line x1="666.6" y1="201.8" x2="666.6" y2="218.8" stroke="#c4c4c4" stroke-width="1.2"/>
<path d="M650.2,217.5 L671.3,217.5 L671.3,226 Q660.8,230 650.2,226 Z" fill="#fff" stroke="#555" stroke-width="0.6"/><line x1="669.1" y1="218.3" x2="669.1" y2="227.6" stroke="#c4c4c4" stroke-width="1.2"/>
<path d="M653.2,226 L670.8,226 L670.8,243 Q662,246.2 653.2,243 Z" fill="#fff" stroke="#555" stroke-width="0.6"/><line x1="668.6" y1="226.8" x2="668.6" y2="244.3" stroke="#c4c4c4" stroke-width="1.2"/>
<path d="M652.7,243 L672.8,243 L672.8,248.5 Q662.8,252.1 652.7,248.5 Z" fill="#fff" stroke="#555" stroke-width="0.6"/><line x1="670.6" y1="243.8" x2="670.6" y2="249.9" stroke="#c4c4c4" stroke-width="1.2"/>
<path d="M654.7,248.5 L672.8,248.5 L672.8,269 Q663.8,272.2 654.7,269 Z" fill="#fff" stroke="#555" stroke-width="0.6"/><line x1="670.6" y1="249.3" x2="670.6" y2="270.3" stroke="#c4c4c4" stroke-width="1.2"/>
<path d="M672,249 Q678,250 677.5,253 Q676,259 672,260 Z" fill="#fff" stroke="#555" stroke-width="0.6"/>
<path d="M650.1,275.1 L650.1,274.6 L650.2,274.1 L650.3,273.6 L650.4,273 L650.5,272.5 L650.7,272 L650.9,271.5 L651.2,271 L651.5,270.6 L651.8,270.2 L652.1,269.8 L652.4,269.5 L652.7,269.2 L653.1,268.9 L653.4,268.7 L653.8,268.6 L654.1,268.5 L654.5,268.5 L654.8,268.5 L655.1,268.6 L661.1,270.6 L661.4,270.7 L661.7,270.9 L662,271.1 L662.2,271.4 L662.4,271.7 L662.6,272.1 L662.7,272.5 L662.8,272.9 L662.9,273.4 L662.9,273.9 L662.9,274.4 L662.8,274.9 L662.7,275.4 L662.6,276 L662.5,276.5 L662.3,277 L662.1,277.5 L661.8,278 L661.5,278.4 L661.2,278.8 L660.9,279.2 L660.6,279.5 L660.3,279.8 L659.9,280.1 L659.6,280.3 L659.2,280.4 L658.9,280.5 L658.5,280.5 L658.2,280.5 L657.9,280.4 L651.9,278.4 L651.6,278.3 L651.3,278.1 L651,277.9 L650.8,277.6 L650.6,277.3 L650.4,276.9 L650.3,276.5 L650.2,276.1 L650.1,275.6Z" fill="#8fd0f0" stroke="#4a8fb8" stroke-width="0.6"/><ellipse cx="653.5" cy="273.5" rx="3.1" ry="5.2" transform="rotate(18.4 653.5 273.5)" fill="#8fd0f0" stroke="#4a8fb8" stroke-width="0.6"/>
<path d="M659,269 L672,269 Q679,272 678,280 Q676.5,288 669,287.5 Q661,286 659.5,278 Z" fill="#fff" stroke="#555" stroke-width="0.6"/>
<ellipse cx="672.5" cy="278.5" rx="5" ry="7.5" fill="#fff" stroke="#666" stroke-width="0.6"/>
<path d="M650.6,180 L650.6,187 M656.2,183 L656.2,190" stroke="#111" stroke-width="1.1"/>
<line x1="604.7" y1="251" x2="604.7" y2="313.5" stroke="#222" stroke-width="0.8"/><path d="M604.7,320.5 L602.9,313.5 L606.5,313.5 Z" fill="#222"/>
<path d="M568,393.9 L568.1,390.8 L568.3,387.7 L568.5,384.6 L568.9,381.6 L569.4,378.5 L570,375.5 L570.7,372.5 L571.5,369.5 L572.4,366.5 L573.4,363.6 L574.5,360.7 L575.7,357.8 L576.9,355 L578.3,352.3 L579.8,349.6 L581.3,347 L582.9,344.4 L584.7,341.9 L586.4,339.5 L588.3,337.2 L590.3,334.9 L592.3,332.8 L594.3,330.7 L596.5,328.7 L598.7,326.8 L600.9,325 L603.3,323.3 L605.6,321.7 L608,320.2 L610.5,318.8 L613,317.5 L615.5,316.3 L618.1,315.3 L620.7,314.3 L623.3,313.5 L625.9,312.8 L628.6,312.2 L631.2,311.7 L633.9,311.4 L636.6,311.1 L639.2,311 L641.9,311 L644.5,311.2 L647.2,311.4 L649.8,311.8 L652.4,312.3 L655,312.9 L657.5,313.6 L660.1,314.4 L662.5,315.4 L665,316.5 L667.4,317.7 L669.7,319 L672,320.4 L674.2,321.9 L676.4,323.5 L678.5,325.2 L680.6,327 L682.6,329 L684.5,331 L686.3,333.1 L688.1,335.3 L689.7,337.5 L691.3,339.9 L692.8,342.3 L694.3,344.8 L695.6,347.4 L696.8,350 L698,352.7 L699,355.4 L700,358.3 L700.8,361.1 L701.6,364 L702.2,366.9 L702.8,369.9 L703.2,372.9 L703.6,375.9 L703.8,379 L704,382 L704,385.1 L704,393.3 L704,395.7 L703.9,398.2 L703.8,400.6 L703.5,403.1 L703.2,405.6 L702.9,408 L702.4,410.5 L701.9,413 L701.4,415.4 L700.7,417.8 L700,420.2 L699.2,422.6 L698.4,424.9 L697.5,427.2 L696.5,429.5 L695.5,431.7 L694.4,433.9 L693.2,436 L692,438.1 L690.8,440.1 L689.5,442.1 L688.1,444 L686.7,445.8 L685.2,447.6 L683.7,449.3 L682.2,451 L680.6,452.5 L679,454 L677.4,455.4 L675.7,456.8 L674,458 L672.3,459.2 L670.5,460.3 L668.7,461.2 L666.9,462.1 L665.1,462.9 L663.3,463.7 L661.5,464.3 L659.6,464.8 L657.8,465.2 L655.9,465.6 L654.1,465.8 L638.1,467.6 L635.4,467.9 L632.8,468 L630.1,468 L627.5,467.8 L624.8,467.6 L622.2,467.2 L619.6,466.7 L617,466.1 L614.5,465.4 L611.9,464.6 L609.5,463.6 L607,462.5 L604.6,461.3 L602.3,460 L600,458.6 L597.8,457.1 L595.6,455.5 L593.5,453.8 L591.4,452 L589.4,450 L587.5,448 L585.7,445.9 L583.9,443.7 L582.3,441.5 L580.7,439.1 L579.2,436.7 L577.7,434.2 L576.4,431.6 L575.2,429 L574,426.3 L573,423.6 L572,420.7 L571.2,417.9 L570.4,415 L569.8,412.1 L569.2,409.1 L568.8,406.1 L568.4,403.1 L568.2,400 L568,397Z" fill="#fff" stroke="#333" stroke-width="0.8"/><path d="M701.7,413.8 L699.5,421.5 L699.4,420.3 L701.7,412.3Z M701.7,411.9 L699.4,420 L699.3,418.8 L701.7,410.4Z M701.7,410.1 L699.3,418.5 L699.2,417.4 L701.7,408.6Z M701.7,408.2 L699.2,417.1 L699.1,415.9 L701.7,406.8Z M701.7,406.4 L699.1,415.6 L699,414.4 L701.7,404.9Z M698.9,423.4 L695.9,430.7 L695.6,429.9 L698.8,422.3Z M698.7,422 L695.5,429.7 L695.3,428.8 L698.6,420.9Z M698.6,420.6 L695.2,428.6 L694.9,427.8 L698.5,419.5Z M698.5,419.2 L694.9,427.6 L694.6,426.8 L698.3,418.1Z M698.3,417.8 L694.5,426.6 L694.3,425.7 L698.2,416.7Z M695,432.5 L691.2,439.2 L690.7,438.7 L694.7,431.7Z M694.6,431.5 L690.6,438.6 L690,438.1 L694.3,430.8Z M694.2,430.6 L689.9,438 L689.4,437.4 L693.9,429.8Z M693.8,429.6 L689.3,437.3 L688.8,436.8 L693.5,428.8Z M693.5,428.6 L688.6,436.7 L688.1,436.1 L693.2,427.9Z M690.2,440.9 L685.7,446.9 L684.9,446.6 L689.6,440.4Z M689.5,440.3 L684.7,446.6 L683.8,446.3 L688.9,439.8Z M688.7,439.7 L683.6,446.3 L682.8,446 L688.2,439.2Z M688,439.1 L682.6,446 L681.7,445.7 L687.4,438.7Z M687.3,438.6 L681.5,445.7 L680.7,445.4 L686.7,438.1Z M684.5,448.3 L679.5,453.4 L678.3,453.4 L683.6,448.1Z M683.4,448 L678,453.4 L676.7,453.4 L682.5,447.9Z M682.2,447.8 L676.4,453.4 L675.2,453.4 L681.3,447.6Z M681.1,447.6 L674.9,453.4 L673.7,453.3 L680.2,447.4Z M679.9,447.3 L673.4,453.3 L672.1,453.3 L679,447.1Z M678.2,454.6 L672.7,458.7 L671.1,458.9 L676.9,454.6Z M676.6,454.6 L670.6,458.9 L669,459.1 L675.2,454.7Z M674.9,454.7 L668.6,459.1 L666.9,459.3 L673.6,454.7Z M673.3,454.7 L666.5,459.3 L664.8,459.5 L671.9,454.7Z M671.6,454.7 L664.4,459.5 L662.7,459.7 L670.3,454.7Z M671.3,459.6 L665.6,462.7 L663.4,462.9 L669.6,459.8Z M669.1,459.9 L662.9,463 L660.7,463.3 L667.4,460.1Z M666.9,460.1 L660.2,463.3 L658,463.6 L665.1,460.3Z M664.7,460.3 L657.5,463.7 L655.3,464 L662.9,460.5Z M662.5,460.6 L654.8,464 L652.6,464.3 L660.7,460.7Z M664.1,463.3 L658.2,465.1 L655.5,465.4 L661.8,463.6Z M661.3,463.6 L654.8,465.5 L652.2,465.9 L659,463.9Z M658.5,464 L651.5,465.9 L648.8,466.3 L656.2,464.3Z M655.6,464.4 L648.2,466.3 L645.5,466.7 L653.4,464.6Z M652.8,464.7 L644.8,466.7 L642.2,467.1 L650.6,465Z M656.7,465.4 L650.7,466 L647.5,466.4 L653.9,465.8Z M653.2,465.8 L646.7,466.4 L643.6,466.8 L650.4,466.2Z M649.8,466.3 L642.8,466.8 L639.6,467.2 L647,466.6Z M646.3,466.7 L638.8,467.2 L635.6,467.6 L643.5,467Z M642.8,467.1 L634.8,467.6 L631.6,468 L640.1,467.4Z M649.3,466 L643.5,465.4 L639.7,465.6 L646,466.3Z M645.1,466.4 L638.8,465.7 L635.1,466 L641.8,466.7Z M641,466.8 L634.1,466 L630.4,466.3 L637.7,467.1Z M636.9,467.2 L629.5,466.3 L625.7,466.6 L633.6,467.5Z M632.8,467.6 L624.8,466.7 L621.1,466.9 L629.5,467.9Z M642,465.1 L636.5,463.2 L632.2,463.3 L638.2,465.3Z M637.2,465.4 L631.2,463.4 L626.9,463.5 L633.4,465.6Z M632.4,465.7 L625.9,463.5 L621.6,463.7 L628.6,465.9Z M627.7,466 L620.5,463.7 L616.3,463.8 L623.8,466.2Z M622.9,466.2 L615.2,463.8 L611,464 L619,466.5Z M635.1,462.6 L630,459.5 L625.3,459.5 L630.8,462.7Z M629.7,462.7 L624.1,459.5 L619.3,459.4 L625.4,462.8Z M624.3,462.8 L618.1,459.4 L613.4,459.3 L619.9,462.9Z M618.8,462.9 L612.2,459.3 L607.4,459.3 L614.5,463Z M613.4,463.1 L606.3,459.3 L601.5,459.2 L609,463.2Z M628.8,458.6 L624.2,454.4 L619,454.2 L623.9,458.5Z M622.7,458.5 L617.7,454.1 L612.5,453.8 L617.9,458.4Z M616.7,458.4 L611.1,453.7 L605.9,453.4 L611.8,458.3Z M610.6,458.3 L604.6,453.4 L599.4,453.1 L605.8,458.2Z M604.5,458.1 L598.1,453 L592.9,452.7 L599.7,458Z M623.1,453.3 L619.2,448.1 L613.5,447.5 L617.8,452.9Z M616.5,452.8 L612.1,447.4 L606.5,446.8 L611.2,452.5Z M609.9,452.4 L605.1,446.7 L599.4,446.1 L604.5,452.1Z M603.2,452 L598,446 L592.4,445.4 L597.9,451.7Z M596.6,451.6 L591,445.3 L585.3,444.7 L591.3,451.2Z M618.3,446.7 L615.1,440.6 L609.1,439.7 L612.6,446.1Z M611.1,445.9 L607.6,439.5 L601.6,438.6 L605.4,445.3Z M604,445.1 L600.1,438.4 L594.1,437.5 L598.3,444.5Z M596.8,444.3 L592.6,437.3 L586.5,436.4 L591.1,443.7Z M589.7,443.5 L585,436.2 L579,435.3 L584,442.9Z M614.4,439 L612,432.2 L605.7,431 L608.3,438.1Z M606.8,437.8 L604.1,430.7 L597.8,429.4 L600.7,436.9Z M599.2,436.6 L596.2,429.1 L589.9,427.9 L593.1,435.7Z M591.6,435.4 L588.4,427.6 L582,426.4 L585.5,434.5Z M584,434.3 L580.5,426 L574.2,424.8 L577.9,433.3Z M611.5,430.5 L610,423.1 L603.5,421.5 L605.2,429.1Z M603.6,428.8 L601.9,421.1 L595.3,419.5 L597.2,427.5Z M595.6,427.2 L593.7,419.1 L587.2,417.5 L589.3,425.9Z M587.7,425.5 L585.5,417.1 L579,415.5 L581.3,424.2Z M579.7,423.9 L577.4,415.1 L570.8,413.4 L573.4,422.6Z M609.8,421.2 L609.2,413.5 L602.5,411.5 L603.2,419.5Z M601.5,419.1 L600.8,411 L594.2,409 L595,417.4Z M593.3,417 L592.5,408.5 L585.8,406.5 L586.8,415.3Z M585.1,414.9 L584.1,406 L577.4,404 L578.6,413.2Z M576.9,412.8 L575.8,403.5 L569.1,401.5 L570.3,411.1Z M609.2,411.5 L609.5,403.6 L602.8,401.2 L602.5,409.4Z M600.8,408.9 L601.1,400.6 L594.3,398.2 L594.1,406.8Z M592.4,406.3 L592.6,397.6 L585.9,395.2 L585.7,404.3Z M584,403.7 L584.2,394.6 L577.5,392.2 L577.3,401.7Z M575.6,401.1 L575.8,391.6 L569,389.3 L568.9,399.1Z M609.7,401.6 L611,393.7 L604.3,390.9 L603,399.1Z M601.3,398.5 L602.6,390.2 L595.9,387.4 L594.5,396Z M592.8,395.4 L594.2,386.7 L587.4,384 L586.1,393Z M584.4,392.4 L585.8,383.3 L579,380.5 L577.6,389.9Z M576,389.3 L577.3,379.8 L570.6,377 L569.2,386.8Z M611.5,391.7 L613.6,384 L607,380.8 L604.7,388.9Z M603,388.1 L605.3,380.1 L598.7,376.9 L596.3,385.3Z M594.6,384.6 L597,376.1 L590.4,373 L587.9,381.7Z M586.2,381 L588.7,372.2 L582.1,369.1 L579.5,378.2Z M577.8,377.5 L580.4,368.3 L573.8,365.1 L571.1,374.6Z M614.3,382.1 L617.3,374.8 L610.8,371.3 L607.7,378.9Z M606,378.1 L609.2,370.4 L602.8,366.9 L599.4,374.9Z M597.8,374.1 L601.2,366 L594.7,362.5 L591.2,370.8Z M589.5,370 L593.1,361.7 L586.6,358.2 L582.9,366.8Z M581.2,366 L585,357.3 L578.6,353.8 L574.6,362.8Z M618.2,373 L621.9,366.2 L615.7,362.4 L611.7,369.4Z M610.1,368.5 L614.2,361.5 L608,357.7 L603.7,365Z M602.1,364.1 L606.4,356.7 L600.2,352.9 L595.7,360.5Z M594.1,359.7 L598.7,352 L592.5,348.2 L587.7,356.1Z M586.1,355.2 L590.9,347.2 L584.7,343.4 L579.7,351.7Z M623,364.6 L627.4,358.6 L621.6,354.5 L616.8,360.7Z M615.3,359.8 L620.1,353.5 L614.2,349.4 L609.2,355.9Z M607.6,355 L612.7,348.4 L606.9,344.3 L601.5,351.1Z M599.9,350.1 L605.4,343.3 L599.5,339.2 L593.8,346.3Z M592.3,345.3 L598.1,338.2 L592.2,334.1 L586.1,341.4Z M628.6,357.2 L633.6,352 L628.2,347.7 L622.8,353Z M621.4,352 L626.8,346.6 L621.3,342.3 L615.6,347.9Z M614.1,346.9 L619.9,341.3 L614.4,337 L608.3,342.7Z M606.9,341.7 L613.1,335.9 L607.6,331.6 L601.1,337.6Z M599.6,336.5 L606.2,330.5 L600.7,326.2 L593.8,332.4Z M635,350.9 L640.4,346.7 L635.4,342.2 L629.6,346.5Z M628.2,345.4 L634.1,341.1 L629.1,336.6 L622.8,341.1Z M621.5,340 L627.8,335.5 L622.8,331.1 L616.1,335.7Z M614.7,334.6 L621.5,329.9 L616.4,325.5 L609.3,330.2Z M607.9,329.2 L615.2,324.3 L610.1,319.9 L602.5,324.8Z M641.8,345.8 L647.6,342.8 L643,338.2 L636.9,341.3Z M635.6,340.2 L641.9,337.1 L637.3,332.5 L630.7,335.7Z M629.4,334.6 L636.2,331.3 L631.6,326.7 L624.5,330.1Z M623.3,328.9 L630.5,325.6 L625.9,321 L618.3,324.4Z M617.1,323.3 L624.8,319.8 L620.2,315.3 L612.1,318.8Z M649.1,342.2 L655,340.3 L650.9,335.7 L644.6,337.6Z M643.5,336.4 L649.9,334.5 L645.9,329.9 L639,331.8Z M637.9,330.7 L644.9,328.7 L640.8,324.1 L633.4,326.1Z M632.3,324.9 L639.8,322.9 L635.7,318.3 L627.9,320.3Z M626.7,319.1 L634.7,317.1 L630.7,312.5 L622.3,314.5Z M656.5,340 L662.4,339.4 L658.9,334.8 L652.5,335.4Z M651.5,334.2 L658,333.6 L654.5,329 L647.6,329.6Z M646.6,328.4 L653.6,327.8 L650.1,323.2 L642.7,323.8Z M641.7,322.6 L649.2,322 L645.7,317.4 L637.7,317.9Z M636.7,316.8 L644.8,316.2 L641.3,311.6 L632.8,312.1Z M663.9,339.4 L669.7,340.1 L666.7,335.5 L660.5,334.8Z M659.6,333.6 L666,334.4 L663,329.8 L656.2,329Z M655.3,327.8 L662.2,328.6 L659.2,324.1 L651.9,323.2Z M651.1,322.1 L658.5,322.9 L655.5,318.3 L647.7,317.4Z M646.8,316.3 L654.7,317.2 L651.8,312.6 L643.4,311.6Z M671.1,340.4 L676.7,342.3 L674.2,337.8 L668.2,335.8Z M667.5,334.7 L673.6,336.7 L671.1,332.3 L664.6,330.1Z M663.9,329 L670.5,331.1 L668,326.7 L661,324.4Z M660.3,323.3 L667.4,325.6 L664.9,321.1 L657.4,318.8Z M656.7,317.6 L664.3,320 L661.9,315.6 L653.8,313.1Z M678,342.9 L683.1,345.9 L681.2,341.7 L675.6,338.5Z M675.1,337.4 L680.7,340.6 L678.7,336.3 L672.7,332.9Z M672.1,331.8 L678.2,335.3 L676.3,331 L669.7,327.4Z M669.1,326.3 L675.8,329.9 L673.8,325.7 L666.8,321.9Z M666.2,320.8 L673.3,324.6 L671.3,320.3 L663.8,316.4Z M684.4,346.8 L689,351 L687.5,347 L682.5,342.6Z M682,341.6 L687.1,346 L685.6,341.9 L680.2,337.3Z M679.7,336.3 L685.2,340.9 L683.7,336.9 L677.8,332.1Z M677.4,331 L683.3,335.9 L681.8,331.9 L675.5,326.8Z M675,325.7 L681.5,330.8 L680,326.8 L673.1,321.5Z M690,352.2 L694,357.4 L692.9,353.6 L688.6,348.2Z M688.3,347.2 L692.6,352.7 L691.6,348.9 L686.9,343.2Z M686.5,342.2 L691.3,348 L690.2,344.2 L685.1,338.3Z M684.7,337.3 L689.9,343.3 L688.9,339.5 L683.3,333.3Z M683,332.3 L688.6,338.6 L687.5,334.8 L681.6,328.3Z M694.9,358.8 L698.1,364.8 L697.4,361.4 L693.9,355.1Z M693.6,354.2 L697.2,360.5 L696.5,357.1 L692.6,350.5Z M692.4,349.5 L696.3,356.2 L695.6,352.8 L691.4,345.8Z M691.1,344.9 L695.4,352 L694.7,348.5 L690.1,341.2Z M689.9,340.3 L694.5,347.7 L693.8,344.2 L688.9,336.6Z M698.8,366.4 L701.2,373.2 L700.7,370.1 L698.1,363.1Z M698,362.2 L700.6,369.4 L700.2,366.3 L697.3,358.9Z M697.2,358 L700.1,365.5 L699.7,362.4 L696.5,354.7Z M696.4,353.8 L699.6,361.7 L699.2,358.6 L695.7,350.5Z M695.5,349.6 L699.1,357.8 L698.7,354.7 L694.9,346.2Z M701.6,375 L703.1,382.4 L703,379.6 L701.3,372Z M701.2,371.2 L702.9,379 L702.7,376.3 L700.8,368.2Z M700.7,367.5 L702.7,375.6 L702.5,372.9 L700.4,364.5Z M700.3,363.7 L702.4,372.2 L702.3,369.5 L699.9,360.7Z M699.8,360 L702.2,368.8 L702,366.1 L699.5,356.9Z M703.4,384.2 L704,392 L703.9,389.7 L703.2,381.6Z M703.2,381 L703.9,389.1 L703.9,386.8 L703.1,378.3Z M703,377.7 L703.9,386.2 L703.8,383.9 L702.9,375Z M702.8,374.4 L703.8,383.3 L703.8,380.9 L702.7,371.7Z M702.7,371.1 L703.8,380.4 L703.8,378 L702.5,368.4Z M704,393.9 L703.6,401.9 L703.7,399.9 L704,391.7Z M704,391.1 L703.7,399.5 L703.7,397.5 L704,388.9Z M704,388.3 L703.7,397 L703.7,395.1 L703.9,386.1Z M703.9,385.5 L703.8,394.6 L703.8,392.7 L703.9,383.3Z M703.9,382.7 L703.8,392.2 L703.8,390.3 L703.9,380.5Z M703.4,403.9 L702.1,411.8 L702.2,410.2 L703.5,402Z M703.5,401.5 L702.2,409.9 L702.2,408.3 L703.5,399.7Z M703.5,399.2 L702.2,407.9 L702.2,406.4 L703.6,397.4Z M703.6,396.9 L702.2,406 L702.2,404.4 L703.6,395.1Z M703.6,394.6 L702.2,404.1 L702.2,402.5 L703.6,392.7Z" fill="#fff" stroke="#3a3a3a" stroke-width="0.75"/><path d="M568,393.9 L568.1,390.8 L568.3,387.7 L568.5,384.6 L568.9,381.6 L569.4,378.5 L570,375.5 L570.7,372.5 L571.5,369.5 L572.4,366.5 L573.4,363.6 L574.5,360.7 L575.7,357.8 L576.9,355 L578.3,352.3 L579.8,349.6 L581.3,347 L582.9,344.4 L584.7,341.9 L586.4,339.5 L588.3,337.2 L590.3,334.9 L592.3,332.8 L594.3,330.7 L596.5,328.7 L598.7,326.8 L600.9,325 L603.3,323.3 L605.6,321.7 L608,320.2 L610.5,318.8 L613,317.5 L615.5,316.3 L618.1,315.3 L620.7,314.3 L623.3,313.5 L625.9,312.8 L628.6,312.2 L631.2,311.7 L633.9,311.4 L636.6,311.1 L639.2,311 L641.9,311 L644.5,311.2 L647.2,311.4 L649.8,311.8 L652.4,312.3 L655,312.9 L657.5,313.6 L660.1,314.4 L662.5,315.4 L665,316.5 L667.4,317.7 L669.7,319 L672,320.4 L674.2,321.9 L676.4,323.5 L678.5,325.2 L680.6,327 L682.6,329 L684.5,331 L686.3,333.1 L688.1,335.3 L689.7,337.5 L691.3,339.9 L692.8,342.3 L694.3,344.8 L695.6,347.4 L696.8,350 L698,352.7 L699,355.4 L700,358.3 L700.8,361.1 L701.6,364 L702.2,366.9 L702.8,369.9 L703.2,372.9 L703.6,375.9 L703.8,379 L704,382 L704,385.1 L704,393.3 L704,395.7 L703.9,398.2 L703.8,400.6 L703.5,403.1 L703.2,405.6 L702.9,408 L702.4,410.5 L701.9,413 L701.4,415.4 L700.7,417.8 L700,420.2 L699.2,422.6 L698.4,424.9 L697.5,427.2 L696.5,429.5 L695.5,431.7 L694.4,433.9 L693.2,436 L692,438.1 L690.8,440.1 L689.5,442.1 L688.1,444 L686.7,445.8 L685.2,447.6 L683.7,449.3 L682.2,451 L680.6,452.5 L679,454 L677.4,455.4 L675.7,456.8 L674,458 L672.3,459.2 L670.5,460.3 L668.7,461.2 L666.9,462.1 L665.1,462.9 L663.3,463.7 L661.5,464.3 L659.6,464.8 L657.8,465.2 L655.9,465.6 L654.1,465.8 L638.1,467.6 L635.4,467.9 L632.8,468 L630.1,468 L627.5,467.8 L624.8,467.6 L622.2,467.2 L619.6,466.7 L617,466.1 L614.5,465.4 L611.9,464.6 L609.5,463.6 L607,462.5 L604.6,461.3 L602.3,460 L600,458.6 L597.8,457.1 L595.6,455.5 L593.5,453.8 L591.4,452 L589.4,450 L587.5,448 L585.7,445.9 L583.9,443.7 L582.3,441.5 L580.7,439.1 L579.2,436.7 L577.7,434.2 L576.4,431.6 L575.2,429 L574,426.3 L573,423.6 L572,420.7 L571.2,417.9 L570.4,415 L569.8,412.1 L569.2,409.1 L568.8,406.1 L568.4,403.1 L568.2,400 L568,397Z" fill="none" stroke="#333" stroke-width="0.8"/><ellipse cx="657" cy="403" rx="46" ry="63.7" transform="rotate(12.5 657 403)" fill="#fff" stroke="#333" stroke-width="0.9"/><ellipse cx="658" cy="403.5" rx="42" ry="58.7" transform="rotate(12.5 658 403.5)" fill="none" stroke="#888" stroke-width="0.7"/><ellipse cx="656.4" cy="403" rx="30.5" ry="39.2" transform="rotate(12.5 656.4 403)" fill="#d2d2d2" stroke="#555" stroke-width="0.8"/><ellipse cx="657.2" cy="403" rx="27" ry="35" transform="rotate(12.5 657.2 403)" fill="#e8e8e8" stroke="#777" stroke-width="0.6"/><ellipse cx="658" cy="403.3" rx="23" ry="30" transform="rotate(12.5 658 403.3)" fill="#dadada" stroke="#444" stroke-width="0.8"/><ellipse cx="658.8" cy="403.5" rx="19" ry="25" transform="rotate(12.5 658.8 403.5)" fill="#e4e4e4" stroke="#555" stroke-width="0.6"/><ellipse cx="659.6" cy="403.6" rx="15" ry="20" transform="rotate(12.5 659.6 403.6)" fill="#dcdcdc" stroke="#444" stroke-width="0.7"/><circle cx="671.7" cy="406.3" r="0.9" fill="#555"/><circle cx="669" cy="412.9" r="0.9" fill="#555"/><circle cx="664.6" cy="417.7" r="0.9" fill="#555"/><circle cx="659.2" cy="419.7" r="0.9" fill="#555"/><circle cx="654" cy="418.5" r="0.9" fill="#555"/><circle cx="650" cy="414.4" r="0.9" fill="#555"/><circle cx="647.9" cy="408.2" r="0.9" fill="#555"/><circle cx="648.3" cy="401.1" r="0.9" fill="#555"/><circle cx="651" cy="394.5" r="0.9" fill="#555"/><circle cx="655.4" cy="389.7" r="0.9" fill="#555"/><circle cx="660.8" cy="387.7" r="0.9" fill="#555"/><circle cx="666" cy="388.9" r="0.9" fill="#555"/><circle cx="670" cy="393" r="0.9" fill="#555"/><circle cx="672.1" cy="399.2" r="0.9" fill="#555"/><ellipse cx="660.6" cy="403.8" rx="8.5" ry="11" transform="rotate(12.5 660.6 403.8)" fill="#e6e6e6" stroke="#666" stroke-width="0.5"/><ellipse cx="661.6" cy="403.2" rx="5.3" ry="7" transform="rotate(12.5 661.6 403.2)" fill="#8ccff0" stroke="#5aa0c8" stroke-width="0.6"/><rect x="687.5" y="363" width="6" height="5.5" rx="1" fill="#9a9a9a" transform="rotate(20 690.5 365.7)"/><rect x="690" y="370" width="6" height="5.5" rx="1" fill="#9a9a9a" transform="rotate(20 693 372.7)"/><rect x="691.5" y="377.5" width="6" height="5.5" rx="1" fill="#9a9a9a" transform="rotate(20 694.5 380.2)"/><rect x="692.5" y="385" width="6" height="5.5" rx="1" fill="#9a9a9a" transform="rotate(20 695.5 387.7)"/><rect x="692.8" y="392.5" width="6" height="5.5" rx="1" fill="#9a9a9a" transform="rotate(20 695.8 395.2)"/><path d="M619.5,409 l3,-0.5 M619.8,412 l3,-0.5 M620,415.5 l3,-0.5 M620.3,419 l3,-0.5 M620.6,424 l3,-0.5 M621,427.5 l3,-0.5" stroke="#666" stroke-width="1.1"/>
<line x1="661.3" y1="288" x2="661.3" y2="388" stroke="#222" stroke-width="0.8"/>
<path d="M661.5,396 L659.6,387 L663.4,387 Z" fill="#222"/>
<line x1="527.9" y1="455" x2="568" y2="414.7" stroke="#a4d4e8" stroke-width="0.85"/>
<line x1="716.5" y1="455" x2="671.3" y2="416.6" stroke="#a4d4e8" stroke-width="0.85"/>
<rect x="516.6" y="456.4" width="20.2" height="14.6" fill="#eef8fd" stroke="#9fd6ec" stroke-width="0.6"/><line x1="516.6" y1="464.3" x2="536.8" y2="464.3" stroke="#9fd6ec" stroke-width="0.6"/><text x="526.7" y="463.1" text-anchor="middle" font-family="Liberation Sans,sans-serif" font-size="6.6" fill="#5a9cc0">H 77</text><text x="526.7" y="469.8" text-anchor="middle" font-family="Liberation Sans,sans-serif" font-size="6.6" fill="#3a3a3a">C 137</text><text x="507.9" y="477" font-family="Liberation Sans,sans-serif" font-size="5.3" fill="#222" textLength="37.5" lengthAdjust="spacingAndGlyphs">TIRE BLACK</text>
<rect x="707.7" y="462.4" width="22.3" height="8.2" fill="#d4f0fb" stroke="#a6dcef" stroke-width="0.6"/><text x="708.7" y="469.6" font-family="Liberation Sans,sans-serif" font-size="6.4" fill="#5aa6c8" textLength="20.3" lengthAdjust="spacingAndGlyphs">MC218</text><text x="701" y="476" font-family="Liberation Sans,sans-serif" font-size="5.3" fill="#222" textLength="36.5" lengthAdjust="spacingAndGlyphs">ALUMINIUM</text>
<text class="sb" x="517.9" y="350.3" font-size="12" textLength="15.6" lengthAdjust="spacingAndGlyphs">R2</text>
<rect x="539" y="340.6" width="10.2" height="10.6" fill="#fff" stroke="#666" stroke-width="0.7"/>
<circle cx="544" cy="346" r="3.3" fill="#fff" stroke="#222" stroke-width="0.5"/><path d="M544,342.7 A1.65,1.65 0 0 1 544,346 A1.65,1.65 0 0 0 544,349.3 A3.3,3.3 0 0 1 544,342.7Z" fill="#111" transform="rotate(-50 544 346)"/>
<text class="sb" x="555" y="350.3" font-size="12" textLength="15.7" lengthAdjust="spacingAndGlyphs">R1</text>
<circle cx="53.1" cy="191.5" r="15.6" fill="#fff" stroke="#cc4e64" stroke-width="1.4"/>
<text x="46.7" y="202.3" font-family="Liberation Serif,serif" font-weight="bold" font-size="29.5" fill="#f4e21a" stroke="#9a8a20" stroke-width="0.7" textLength="13.4" lengthAdjust="spacingAndGlyphs">1</text>
<circle cx="459.8" cy="191.5" r="15.6" fill="#fff" stroke="#cc4e64" stroke-width="1.4"/>
<text x="452.3" y="202.3" font-family="Liberation Serif,serif" font-weight="bold" font-size="29.5" fill="#f4e21a" stroke="#9a8a20" stroke-width="0.7" textLength="15.6" lengthAdjust="spacingAndGlyphs">2</text>
<!-- footer -->
<text class="sb" x="23.4" y="546.3" font-size="8" textLength="86.6" lengthAdjust="spacingAndGlyphs">© EDUARD&#160; M.A. 2016</text>
<text class="sb" x="368.8" y="546.3" font-size="8" textLength="66.2" lengthAdjust="spacingAndGlyphs">www.eduard.com</text>
<text class="sb" x="683.5" y="546.3" font-size="8" textLength="94.4" lengthAdjust="spacingAndGlyphs">Made in Czech Republic</text>
<!-- top right -->
<text class="sb" x="582.7" y="46.8" font-size="12.8" textLength="108.9" lengthAdjust="spacingAndGlyphs">R2 - RIGHT SIDE</text>
<text class="sb" x="582.7" y="63.4" font-size="12.8" textLength="99.5" lengthAdjust="spacingAndGlyphs">R1 - LEFT SIDE</text>
<text class="sb" x="664" y="133" font-size="12" textLength="77.7" lengthAdjust="spacingAndGlyphs">plastic D184</text>

</svg>
</body></html>
